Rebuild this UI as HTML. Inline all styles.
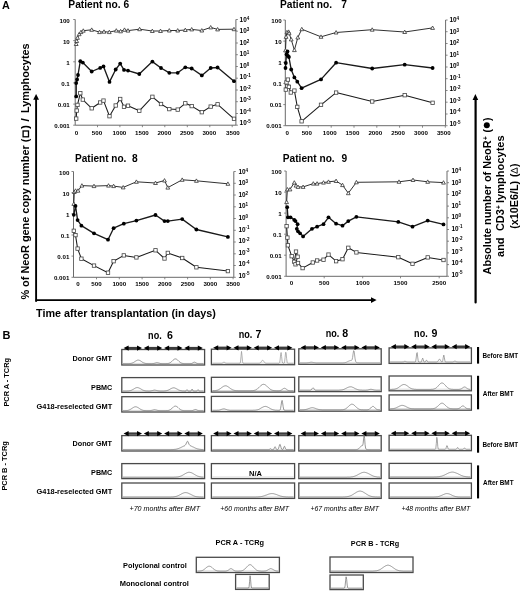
<!DOCTYPE html>
<html><head><meta charset="utf-8"><style>
html,body{margin:0;padding:0;background:#fff;}
svg{display:block;font-family:"Liberation Sans", sans-serif;filter:blur(0.3px);}
</style></head><body>
<svg width="520" height="591" viewBox="0 0 520 591">
<rect width="520" height="591" fill="#fff"/>
<text x="2" y="9.1" font-size="10.8" font-weight="bold" fill="#000">A</text>
<text x="68.3" y="8.3" font-size="10.2" font-weight="bold" textLength="60.9" lengthAdjust="spacingAndGlyphs" fill="#000">Patient no. 6</text>
<text x="280" y="7.8" font-size="10.2" font-weight="bold" textLength="52" lengthAdjust="spacingAndGlyphs" fill="#000">Patient no.</text>
<text x="341.3" y="7.8" font-size="10.2" font-weight="bold" fill="#000">7</text>
<text x="75" y="161.5" font-size="10.2" font-weight="bold" textLength="51.4" lengthAdjust="spacingAndGlyphs" fill="#000">Patient no.</text>
<text x="132.1" y="161.5" font-size="10.2" font-weight="bold" fill="#000">8</text>
<text x="282.8" y="161.5" font-size="10.2" font-weight="bold" textLength="51.9" lengthAdjust="spacingAndGlyphs" fill="#000">Patient no.</text>
<text x="341.6" y="161.5" font-size="10.2" font-weight="bold" fill="#000">9</text>
<path d="M75.2,19.5 V125.2 H235.9 V19.5" fill="none" stroke="#6a6a6a" stroke-width="1"/>
<line x1="73.2" y1="19.5" x2="75.2" y2="19.5" stroke="#6a6a6a" stroke-width="0.8"/>
<line x1="73.2" y1="40.6" x2="75.2" y2="40.6" stroke="#6a6a6a" stroke-width="0.8"/>
<line x1="73.2" y1="61.8" x2="75.2" y2="61.8" stroke="#6a6a6a" stroke-width="0.8"/>
<line x1="73.2" y1="82.9" x2="75.2" y2="82.9" stroke="#6a6a6a" stroke-width="0.8"/>
<line x1="73.2" y1="104.1" x2="75.2" y2="104.1" stroke="#6a6a6a" stroke-width="0.8"/>
<line x1="73.2" y1="125.2" x2="75.2" y2="125.2" stroke="#6a6a6a" stroke-width="0.8"/>
<line x1="235.9" y1="19.5" x2="237.9" y2="19.5" stroke="#6a6a6a" stroke-width="0.8"/>
<line x1="235.9" y1="31.2" x2="237.9" y2="31.2" stroke="#6a6a6a" stroke-width="0.8"/>
<line x1="235.9" y1="43.0" x2="237.9" y2="43.0" stroke="#6a6a6a" stroke-width="0.8"/>
<line x1="235.9" y1="54.7" x2="237.9" y2="54.7" stroke="#6a6a6a" stroke-width="0.8"/>
<line x1="235.9" y1="66.5" x2="237.9" y2="66.5" stroke="#6a6a6a" stroke-width="0.8"/>
<line x1="235.9" y1="78.2" x2="237.9" y2="78.2" stroke="#6a6a6a" stroke-width="0.8"/>
<line x1="235.9" y1="90.0" x2="237.9" y2="90.0" stroke="#6a6a6a" stroke-width="0.8"/>
<line x1="235.9" y1="101.7" x2="237.9" y2="101.7" stroke="#6a6a6a" stroke-width="0.8"/>
<line x1="235.9" y1="113.5" x2="237.9" y2="113.5" stroke="#6a6a6a" stroke-width="0.8"/>
<line x1="235.9" y1="125.2" x2="237.9" y2="125.2" stroke="#6a6a6a" stroke-width="0.8"/>
<line x1="97.5" y1="125.2" x2="97.5" y2="127.2" stroke="#6a6a6a" stroke-width="0.8"/>
<line x1="119.9" y1="125.2" x2="119.9" y2="127.2" stroke="#6a6a6a" stroke-width="0.8"/>
<line x1="142.4" y1="125.2" x2="142.4" y2="127.2" stroke="#6a6a6a" stroke-width="0.8"/>
<line x1="164.8" y1="125.2" x2="164.8" y2="127.2" stroke="#6a6a6a" stroke-width="0.8"/>
<line x1="187.3" y1="125.2" x2="187.3" y2="127.2" stroke="#6a6a6a" stroke-width="0.8"/>
<line x1="209.8" y1="125.2" x2="209.8" y2="127.2" stroke="#6a6a6a" stroke-width="0.8"/>
<line x1="232.2" y1="125.2" x2="232.2" y2="127.2" stroke="#6a6a6a" stroke-width="0.8"/>
<text x="69.8" y="22.8" font-size="6.2" font-weight="bold" text-anchor="end" fill="#000">100</text>
<text x="69.8" y="43.8" font-size="6.2" font-weight="bold" text-anchor="end" fill="#000">10</text>
<text x="69.8" y="64.7" font-size="6.2" font-weight="bold" text-anchor="end" fill="#000">1</text>
<text x="69.8" y="85.7" font-size="6.2" font-weight="bold" text-anchor="end" fill="#000">0.1</text>
<text x="69.8" y="106.6" font-size="6.2" font-weight="bold" text-anchor="end" fill="#000">0.01</text>
<text x="69.8" y="127.6" font-size="6.2" font-weight="bold" text-anchor="end" fill="#000">0.001</text>
<text x="239.6" y="21.9" font-size="6.4" font-weight="bold">10<tspan dy="-2.4" font-size="4.5">4</tspan></text>
<text x="239.6" y="33.4" font-size="6.4" font-weight="bold">10<tspan dy="-2.4" font-size="4.5">3</tspan></text>
<text x="239.6" y="44.9" font-size="6.4" font-weight="bold">10<tspan dy="-2.4" font-size="4.5">2</tspan></text>
<text x="239.6" y="56.4" font-size="6.4" font-weight="bold">10<tspan dy="-2.4" font-size="4.5">1</tspan></text>
<text x="239.6" y="67.9" font-size="6.4" font-weight="bold">10<tspan dy="-2.4" font-size="4.5">0</tspan></text>
<text x="239.6" y="79.4" font-size="6.4" font-weight="bold">10<tspan dy="-2.4" font-size="4.5">-1</tspan></text>
<text x="239.6" y="90.9" font-size="6.4" font-weight="bold">10<tspan dy="-2.4" font-size="4.5">-2</tspan></text>
<text x="239.6" y="102.4" font-size="6.4" font-weight="bold">10<tspan dy="-2.4" font-size="4.5">-3</tspan></text>
<text x="239.6" y="113.9" font-size="6.4" font-weight="bold">10<tspan dy="-2.4" font-size="4.5">-4</tspan></text>
<text x="239.6" y="125.4" font-size="6.4" font-weight="bold">10<tspan dy="-2.4" font-size="4.5">-5</tspan></text>
<text x="76.6" y="134.8" font-size="6.2" font-weight="bold" text-anchor="middle" fill="#000">0</text>
<text x="97.0" y="134.8" font-size="6.2" font-weight="bold" text-anchor="middle" fill="#000">500</text>
<text x="119.4" y="134.8" font-size="6.2" font-weight="bold" text-anchor="middle" fill="#000">1000</text>
<text x="141.9" y="134.8" font-size="6.2" font-weight="bold" text-anchor="middle" fill="#000">1500</text>
<text x="164.3" y="134.8" font-size="6.2" font-weight="bold" text-anchor="middle" fill="#000">2000</text>
<text x="186.8" y="134.8" font-size="6.2" font-weight="bold" text-anchor="middle" fill="#000">2500</text>
<text x="209.3" y="134.8" font-size="6.2" font-weight="bold" text-anchor="middle" fill="#000">3000</text>
<text x="232.9" y="134.8" font-size="6.2" font-weight="bold" text-anchor="middle" fill="#000">3500</text>
<path d="M285.3,20 V125.7 H445.6 V20" fill="none" stroke="#6a6a6a" stroke-width="1"/>
<line x1="283.3" y1="20.0" x2="285.3" y2="20.0" stroke="#6a6a6a" stroke-width="0.8"/>
<line x1="283.3" y1="41.1" x2="285.3" y2="41.1" stroke="#6a6a6a" stroke-width="0.8"/>
<line x1="283.3" y1="62.3" x2="285.3" y2="62.3" stroke="#6a6a6a" stroke-width="0.8"/>
<line x1="283.3" y1="83.4" x2="285.3" y2="83.4" stroke="#6a6a6a" stroke-width="0.8"/>
<line x1="283.3" y1="104.6" x2="285.3" y2="104.6" stroke="#6a6a6a" stroke-width="0.8"/>
<line x1="283.3" y1="125.7" x2="285.3" y2="125.7" stroke="#6a6a6a" stroke-width="0.8"/>
<line x1="445.6" y1="20.0" x2="447.6" y2="20.0" stroke="#6a6a6a" stroke-width="0.8"/>
<line x1="445.6" y1="31.7" x2="447.6" y2="31.7" stroke="#6a6a6a" stroke-width="0.8"/>
<line x1="445.6" y1="43.5" x2="447.6" y2="43.5" stroke="#6a6a6a" stroke-width="0.8"/>
<line x1="445.6" y1="55.2" x2="447.6" y2="55.2" stroke="#6a6a6a" stroke-width="0.8"/>
<line x1="445.6" y1="67.0" x2="447.6" y2="67.0" stroke="#6a6a6a" stroke-width="0.8"/>
<line x1="445.6" y1="78.7" x2="447.6" y2="78.7" stroke="#6a6a6a" stroke-width="0.8"/>
<line x1="445.6" y1="90.5" x2="447.6" y2="90.5" stroke="#6a6a6a" stroke-width="0.8"/>
<line x1="445.6" y1="102.2" x2="447.6" y2="102.2" stroke="#6a6a6a" stroke-width="0.8"/>
<line x1="445.6" y1="114.0" x2="447.6" y2="114.0" stroke="#6a6a6a" stroke-width="0.8"/>
<line x1="445.6" y1="125.7" x2="447.6" y2="125.7" stroke="#6a6a6a" stroke-width="0.8"/>
<line x1="308.3" y1="125.7" x2="308.3" y2="127.7" stroke="#6a6a6a" stroke-width="0.8"/>
<line x1="331.2" y1="125.7" x2="331.2" y2="127.7" stroke="#6a6a6a" stroke-width="0.8"/>
<line x1="354.0" y1="125.7" x2="354.0" y2="127.7" stroke="#6a6a6a" stroke-width="0.8"/>
<line x1="376.8" y1="125.7" x2="376.8" y2="127.7" stroke="#6a6a6a" stroke-width="0.8"/>
<line x1="399.6" y1="125.7" x2="399.6" y2="127.7" stroke="#6a6a6a" stroke-width="0.8"/>
<line x1="422.5" y1="125.7" x2="422.5" y2="127.7" stroke="#6a6a6a" stroke-width="0.8"/>
<line x1="445.3" y1="125.7" x2="445.3" y2="127.7" stroke="#6a6a6a" stroke-width="0.8"/>
<text x="281.7" y="23.3" font-size="6.2" font-weight="bold" text-anchor="end" fill="#000">100</text>
<text x="281.7" y="44.3" font-size="6.2" font-weight="bold" text-anchor="end" fill="#000">10</text>
<text x="281.7" y="65.2" font-size="6.2" font-weight="bold" text-anchor="end" fill="#000">1</text>
<text x="281.7" y="86.2" font-size="6.2" font-weight="bold" text-anchor="end" fill="#000">0.1</text>
<text x="281.7" y="107.1" font-size="6.2" font-weight="bold" text-anchor="end" fill="#000">0.01</text>
<text x="281.7" y="128.1" font-size="6.2" font-weight="bold" text-anchor="end" fill="#000">0.001</text>
<text x="449.5" y="22.4" font-size="6.4" font-weight="bold">10<tspan dy="-2.4" font-size="4.5">4</tspan></text>
<text x="449.5" y="33.9" font-size="6.4" font-weight="bold">10<tspan dy="-2.4" font-size="4.5">3</tspan></text>
<text x="449.5" y="45.4" font-size="6.4" font-weight="bold">10<tspan dy="-2.4" font-size="4.5">2</tspan></text>
<text x="449.5" y="56.9" font-size="6.4" font-weight="bold">10<tspan dy="-2.4" font-size="4.5">1</tspan></text>
<text x="449.5" y="68.4" font-size="6.4" font-weight="bold">10<tspan dy="-2.4" font-size="4.5">0</tspan></text>
<text x="449.5" y="79.9" font-size="6.4" font-weight="bold">10<tspan dy="-2.4" font-size="4.5">-1</tspan></text>
<text x="449.5" y="91.4" font-size="6.4" font-weight="bold">10<tspan dy="-2.4" font-size="4.5">-2</tspan></text>
<text x="449.5" y="102.9" font-size="6.4" font-weight="bold">10<tspan dy="-2.4" font-size="4.5">-3</tspan></text>
<text x="449.5" y="114.4" font-size="6.4" font-weight="bold">10<tspan dy="-2.4" font-size="4.5">-4</tspan></text>
<text x="449.5" y="125.9" font-size="6.4" font-weight="bold">10<tspan dy="-2.4" font-size="4.5">-5</tspan></text>
<text x="287.3" y="134.9" font-size="6.2" font-weight="bold" text-anchor="middle" fill="#000">0</text>
<text x="306.8" y="134.9" font-size="6.2" font-weight="bold" text-anchor="middle" fill="#000">500</text>
<text x="329.7" y="134.9" font-size="6.2" font-weight="bold" text-anchor="middle" fill="#000">1000</text>
<text x="352.5" y="134.9" font-size="6.2" font-weight="bold" text-anchor="middle" fill="#000">1500</text>
<text x="375.3" y="134.9" font-size="6.2" font-weight="bold" text-anchor="middle" fill="#000">2000</text>
<text x="398.1" y="134.9" font-size="6.2" font-weight="bold" text-anchor="middle" fill="#000">2500</text>
<text x="421.0" y="134.9" font-size="6.2" font-weight="bold" text-anchor="middle" fill="#000">3000</text>
<text x="443.8" y="134.9" font-size="6.2" font-weight="bold" text-anchor="middle" fill="#000">3500</text>
<path d="M73.5,171.5 V277.3 H233.8 V171.5" fill="none" stroke="#6a6a6a" stroke-width="1"/>
<line x1="71.5" y1="171.5" x2="73.5" y2="171.5" stroke="#6a6a6a" stroke-width="0.8"/>
<line x1="71.5" y1="192.7" x2="73.5" y2="192.7" stroke="#6a6a6a" stroke-width="0.8"/>
<line x1="71.5" y1="213.8" x2="73.5" y2="213.8" stroke="#6a6a6a" stroke-width="0.8"/>
<line x1="71.5" y1="235.0" x2="73.5" y2="235.0" stroke="#6a6a6a" stroke-width="0.8"/>
<line x1="71.5" y1="256.1" x2="73.5" y2="256.1" stroke="#6a6a6a" stroke-width="0.8"/>
<line x1="71.5" y1="277.3" x2="73.5" y2="277.3" stroke="#6a6a6a" stroke-width="0.8"/>
<line x1="233.8" y1="171.5" x2="235.8" y2="171.5" stroke="#6a6a6a" stroke-width="0.8"/>
<line x1="233.8" y1="183.3" x2="235.8" y2="183.3" stroke="#6a6a6a" stroke-width="0.8"/>
<line x1="233.8" y1="195.0" x2="235.8" y2="195.0" stroke="#6a6a6a" stroke-width="0.8"/>
<line x1="233.8" y1="206.8" x2="235.8" y2="206.8" stroke="#6a6a6a" stroke-width="0.8"/>
<line x1="233.8" y1="218.5" x2="235.8" y2="218.5" stroke="#6a6a6a" stroke-width="0.8"/>
<line x1="233.8" y1="230.3" x2="235.8" y2="230.3" stroke="#6a6a6a" stroke-width="0.8"/>
<line x1="233.8" y1="242.0" x2="235.8" y2="242.0" stroke="#6a6a6a" stroke-width="0.8"/>
<line x1="233.8" y1="253.8" x2="235.8" y2="253.8" stroke="#6a6a6a" stroke-width="0.8"/>
<line x1="233.8" y1="265.5" x2="235.8" y2="265.5" stroke="#6a6a6a" stroke-width="0.8"/>
<line x1="233.8" y1="277.3" x2="235.8" y2="277.3" stroke="#6a6a6a" stroke-width="0.8"/>
<line x1="96.5" y1="277.3" x2="96.5" y2="279.3" stroke="#6a6a6a" stroke-width="0.8"/>
<line x1="119.3" y1="277.3" x2="119.3" y2="279.3" stroke="#6a6a6a" stroke-width="0.8"/>
<line x1="142.1" y1="277.3" x2="142.1" y2="279.3" stroke="#6a6a6a" stroke-width="0.8"/>
<line x1="164.8" y1="277.3" x2="164.8" y2="279.3" stroke="#6a6a6a" stroke-width="0.8"/>
<line x1="187.6" y1="277.3" x2="187.6" y2="279.3" stroke="#6a6a6a" stroke-width="0.8"/>
<line x1="210.3" y1="277.3" x2="210.3" y2="279.3" stroke="#6a6a6a" stroke-width="0.8"/>
<line x1="233.1" y1="277.3" x2="233.1" y2="279.3" stroke="#6a6a6a" stroke-width="0.8"/>
<text x="69.4" y="174.8" font-size="6.2" font-weight="bold" text-anchor="end" fill="#000">100</text>
<text x="69.4" y="195.8" font-size="6.2" font-weight="bold" text-anchor="end" fill="#000">10</text>
<text x="69.4" y="216.8" font-size="6.2" font-weight="bold" text-anchor="end" fill="#000">1</text>
<text x="69.4" y="237.7" font-size="6.2" font-weight="bold" text-anchor="end" fill="#000">0.1</text>
<text x="69.4" y="258.7" font-size="6.2" font-weight="bold" text-anchor="end" fill="#000">0.01</text>
<text x="69.4" y="279.7" font-size="6.2" font-weight="bold" text-anchor="end" fill="#000">0.001</text>
<text x="238.5" y="173.9" font-size="6.4" font-weight="bold">10<tspan dy="-2.4" font-size="4.5">4</tspan></text>
<text x="238.5" y="185.4" font-size="6.4" font-weight="bold">10<tspan dy="-2.4" font-size="4.5">3</tspan></text>
<text x="238.5" y="196.9" font-size="6.4" font-weight="bold">10<tspan dy="-2.4" font-size="4.5">2</tspan></text>
<text x="238.5" y="208.4" font-size="6.4" font-weight="bold">10<tspan dy="-2.4" font-size="4.5">1</tspan></text>
<text x="238.5" y="219.9" font-size="6.4" font-weight="bold">10<tspan dy="-2.4" font-size="4.5">0</tspan></text>
<text x="238.5" y="231.5" font-size="6.4" font-weight="bold">10<tspan dy="-2.4" font-size="4.5">-1</tspan></text>
<text x="238.5" y="243.0" font-size="6.4" font-weight="bold">10<tspan dy="-2.4" font-size="4.5">-2</tspan></text>
<text x="238.5" y="254.5" font-size="6.4" font-weight="bold">10<tspan dy="-2.4" font-size="4.5">-3</tspan></text>
<text x="238.5" y="266.0" font-size="6.4" font-weight="bold">10<tspan dy="-2.4" font-size="4.5">-4</tspan></text>
<text x="238.5" y="277.5" font-size="6.4" font-weight="bold">10<tspan dy="-2.4" font-size="4.5">-5</tspan></text>
<text x="78.0" y="286.2" font-size="6.2" font-weight="bold" text-anchor="middle" fill="#000">0</text>
<text x="96.5" y="286.2" font-size="6.2" font-weight="bold" text-anchor="middle" fill="#000">500</text>
<text x="119.3" y="286.2" font-size="6.2" font-weight="bold" text-anchor="middle" fill="#000">1000</text>
<text x="142.1" y="286.2" font-size="6.2" font-weight="bold" text-anchor="middle" fill="#000">1500</text>
<text x="164.8" y="286.2" font-size="6.2" font-weight="bold" text-anchor="middle" fill="#000">2000</text>
<text x="187.6" y="286.2" font-size="6.2" font-weight="bold" text-anchor="middle" fill="#000">2500</text>
<text x="210.3" y="286.2" font-size="6.2" font-weight="bold" text-anchor="middle" fill="#000">3000</text>
<text x="233.1" y="286.2" font-size="6.2" font-weight="bold" text-anchor="middle" fill="#000">3500</text>
<path d="M286.1,171.0 V276.3 H447.0 V171.0" fill="none" stroke="#6a6a6a" stroke-width="1"/>
<line x1="284.1" y1="171.0" x2="286.1" y2="171.0" stroke="#6a6a6a" stroke-width="0.8"/>
<line x1="284.1" y1="192.1" x2="286.1" y2="192.1" stroke="#6a6a6a" stroke-width="0.8"/>
<line x1="284.1" y1="213.1" x2="286.1" y2="213.1" stroke="#6a6a6a" stroke-width="0.8"/>
<line x1="284.1" y1="234.2" x2="286.1" y2="234.2" stroke="#6a6a6a" stroke-width="0.8"/>
<line x1="284.1" y1="255.2" x2="286.1" y2="255.2" stroke="#6a6a6a" stroke-width="0.8"/>
<line x1="284.1" y1="276.3" x2="286.1" y2="276.3" stroke="#6a6a6a" stroke-width="0.8"/>
<line x1="447.0" y1="171.0" x2="449.0" y2="171.0" stroke="#6a6a6a" stroke-width="0.8"/>
<line x1="447.0" y1="182.7" x2="449.0" y2="182.7" stroke="#6a6a6a" stroke-width="0.8"/>
<line x1="447.0" y1="194.4" x2="449.0" y2="194.4" stroke="#6a6a6a" stroke-width="0.8"/>
<line x1="447.0" y1="206.1" x2="449.0" y2="206.1" stroke="#6a6a6a" stroke-width="0.8"/>
<line x1="447.0" y1="217.8" x2="449.0" y2="217.8" stroke="#6a6a6a" stroke-width="0.8"/>
<line x1="447.0" y1="229.5" x2="449.0" y2="229.5" stroke="#6a6a6a" stroke-width="0.8"/>
<line x1="447.0" y1="241.2" x2="449.0" y2="241.2" stroke="#6a6a6a" stroke-width="0.8"/>
<line x1="447.0" y1="252.9" x2="449.0" y2="252.9" stroke="#6a6a6a" stroke-width="0.8"/>
<line x1="447.0" y1="264.6" x2="449.0" y2="264.6" stroke="#6a6a6a" stroke-width="0.8"/>
<line x1="447.0" y1="276.3" x2="449.0" y2="276.3" stroke="#6a6a6a" stroke-width="0.8"/>
<line x1="324.2" y1="276.3" x2="324.2" y2="278.3" stroke="#6a6a6a" stroke-width="0.8"/>
<line x1="362.7" y1="276.3" x2="362.7" y2="278.3" stroke="#6a6a6a" stroke-width="0.8"/>
<line x1="400.5" y1="276.3" x2="400.5" y2="278.3" stroke="#6a6a6a" stroke-width="0.8"/>
<line x1="439.2" y1="276.3" x2="439.2" y2="278.3" stroke="#6a6a6a" stroke-width="0.8"/>
<text x="281.7" y="174.3" font-size="6.2" font-weight="bold" text-anchor="end" fill="#000">100</text>
<text x="281.7" y="195.2" font-size="6.2" font-weight="bold" text-anchor="end" fill="#000">10</text>
<text x="281.7" y="216.1" font-size="6.2" font-weight="bold" text-anchor="end" fill="#000">1</text>
<text x="281.7" y="236.9" font-size="6.2" font-weight="bold" text-anchor="end" fill="#000">0.1</text>
<text x="281.7" y="257.8" font-size="6.2" font-weight="bold" text-anchor="end" fill="#000">0.01</text>
<text x="281.7" y="278.7" font-size="6.2" font-weight="bold" text-anchor="end" fill="#000">0.001</text>
<text x="451.5" y="173.4" font-size="6.4" font-weight="bold">10<tspan dy="-2.4" font-size="4.5">4</tspan></text>
<text x="451.5" y="184.9" font-size="6.4" font-weight="bold">10<tspan dy="-2.4" font-size="4.5">3</tspan></text>
<text x="451.5" y="196.3" font-size="6.4" font-weight="bold">10<tspan dy="-2.4" font-size="4.5">2</tspan></text>
<text x="451.5" y="207.8" font-size="6.4" font-weight="bold">10<tspan dy="-2.4" font-size="4.5">1</tspan></text>
<text x="451.5" y="219.2" font-size="6.4" font-weight="bold">10<tspan dy="-2.4" font-size="4.5">0</tspan></text>
<text x="451.5" y="230.7" font-size="6.4" font-weight="bold">10<tspan dy="-2.4" font-size="4.5">-1</tspan></text>
<text x="451.5" y="242.1" font-size="6.4" font-weight="bold">10<tspan dy="-2.4" font-size="4.5">-2</tspan></text>
<text x="451.5" y="253.6" font-size="6.4" font-weight="bold">10<tspan dy="-2.4" font-size="4.5">-3</tspan></text>
<text x="451.5" y="265.0" font-size="6.4" font-weight="bold">10<tspan dy="-2.4" font-size="4.5">-4</tspan></text>
<text x="451.5" y="276.5" font-size="6.4" font-weight="bold">10<tspan dy="-2.4" font-size="4.5">-5</tspan></text>
<text x="291.5" y="285.0" font-size="6.2" font-weight="bold" text-anchor="middle" fill="#000">0</text>
<text x="324.2" y="285.0" font-size="6.2" font-weight="bold" text-anchor="middle" fill="#000">500</text>
<text x="362.7" y="285.0" font-size="6.2" font-weight="bold" text-anchor="middle" fill="#000">1000</text>
<text x="400.5" y="285.0" font-size="6.2" font-weight="bold" text-anchor="middle" fill="#000">1500</text>
<text x="439.2" y="285.0" font-size="6.2" font-weight="bold" text-anchor="middle" fill="#000">2500</text>
<polyline points="76.2,44.0 76.7,41.0 77.5,37.8 79.2,34.2 81.0,32.1 83.3,30.7 91.7,29.8 99.5,32.1 104.0,31.7 109.3,32.1 116.3,30.6 120.6,31.3 124.5,29.8 128.0,30.6 139.6,29.2 152.3,31.0 160.5,31.0 169.3,30.5 177.7,30.5 185.3,30.0 191.7,29.4 201.8,30.5 210.7,27.4 217.6,29.4 234.0,29.2" fill="none" stroke="#1a1a1a" stroke-width="0.9" stroke-linejoin="round"/>
<path d="M76.2,42.1 L78.1,45.5 L74.3,45.5 Z" fill="#fff" stroke="#333" stroke-width="0.8"/>
<path d="M76.7,39.1 L78.6,42.5 L74.8,42.5 Z" fill="#fff" stroke="#333" stroke-width="0.8"/>
<path d="M77.5,35.9 L79.4,39.3 L75.6,39.3 Z" fill="#fff" stroke="#333" stroke-width="0.8"/>
<path d="M79.2,32.3 L81.1,35.7 L77.3,35.7 Z" fill="#fff" stroke="#333" stroke-width="0.8"/>
<path d="M81.0,30.2 L82.9,33.6 L79.1,33.6 Z" fill="#fff" stroke="#333" stroke-width="0.8"/>
<path d="M83.3,28.8 L85.2,32.2 L81.4,32.2 Z" fill="#fff" stroke="#333" stroke-width="0.8"/>
<path d="M91.7,27.9 L93.6,31.3 L89.8,31.3 Z" fill="#fff" stroke="#333" stroke-width="0.8"/>
<path d="M99.5,30.2 L101.4,33.6 L97.6,33.6 Z" fill="#fff" stroke="#333" stroke-width="0.8"/>
<path d="M104.0,29.8 L105.9,33.2 L102.1,33.2 Z" fill="#fff" stroke="#333" stroke-width="0.8"/>
<path d="M109.3,30.2 L111.2,33.6 L107.4,33.6 Z" fill="#fff" stroke="#333" stroke-width="0.8"/>
<path d="M116.3,28.7 L118.2,32.1 L114.4,32.1 Z" fill="#fff" stroke="#333" stroke-width="0.8"/>
<path d="M120.6,29.4 L122.5,32.8 L118.7,32.8 Z" fill="#fff" stroke="#333" stroke-width="0.8"/>
<path d="M124.5,27.9 L126.4,31.3 L122.6,31.3 Z" fill="#fff" stroke="#333" stroke-width="0.8"/>
<path d="M128.0,28.7 L129.9,32.1 L126.1,32.1 Z" fill="#fff" stroke="#333" stroke-width="0.8"/>
<path d="M139.6,27.3 L141.5,30.7 L137.7,30.7 Z" fill="#fff" stroke="#333" stroke-width="0.8"/>
<path d="M152.3,29.1 L154.2,32.5 L150.4,32.5 Z" fill="#fff" stroke="#333" stroke-width="0.8"/>
<path d="M160.5,29.1 L162.4,32.5 L158.6,32.5 Z" fill="#fff" stroke="#333" stroke-width="0.8"/>
<path d="M169.3,28.6 L171.2,32.0 L167.4,32.0 Z" fill="#fff" stroke="#333" stroke-width="0.8"/>
<path d="M177.7,28.6 L179.6,32.0 L175.8,32.0 Z" fill="#fff" stroke="#333" stroke-width="0.8"/>
<path d="M185.3,28.1 L187.2,31.5 L183.4,31.5 Z" fill="#fff" stroke="#333" stroke-width="0.8"/>
<path d="M191.7,27.5 L193.6,30.9 L189.8,30.9 Z" fill="#fff" stroke="#333" stroke-width="0.8"/>
<path d="M201.8,28.6 L203.7,32.0 L199.9,32.0 Z" fill="#fff" stroke="#333" stroke-width="0.8"/>
<path d="M210.7,25.5 L212.6,28.9 L208.8,28.9 Z" fill="#fff" stroke="#333" stroke-width="0.8"/>
<path d="M217.6,27.5 L219.5,30.9 L215.7,30.9 Z" fill="#fff" stroke="#333" stroke-width="0.8"/>
<path d="M234.0,27.3 L235.9,30.7 L232.1,30.7 Z" fill="#fff" stroke="#333" stroke-width="0.8"/>
<polyline points="76.2,118.6 76.7,110.6 77.5,104.9 80.3,93.2 82.8,99.6 91.7,108.3 100.2,102.5 103.5,100.6 109.5,116.2 115.7,105.5 120.2,99.0 124.0,106.8 128.0,105.7 139.3,110.8 152.4,96.8 161.0,104.0 169.3,109.1 177.7,109.6 185.3,103.3 191.7,106.1 201.8,112.2 210.7,106.6 217.6,104.3 234.0,118.8" fill="none" stroke="#1a1a1a" stroke-width="1.05" stroke-linejoin="round"/>
<rect x="74.5" y="116.9" width="3.4" height="3.4" fill="#fff" stroke="#444" stroke-width="0.8"/>
<rect x="75.0" y="108.9" width="3.4" height="3.4" fill="#fff" stroke="#444" stroke-width="0.8"/>
<rect x="75.8" y="103.2" width="3.4" height="3.4" fill="#fff" stroke="#444" stroke-width="0.8"/>
<rect x="78.6" y="91.5" width="3.4" height="3.4" fill="#fff" stroke="#444" stroke-width="0.8"/>
<rect x="81.1" y="97.9" width="3.4" height="3.4" fill="#fff" stroke="#444" stroke-width="0.8"/>
<rect x="90.0" y="106.6" width="3.4" height="3.4" fill="#fff" stroke="#444" stroke-width="0.8"/>
<rect x="98.5" y="100.8" width="3.4" height="3.4" fill="#fff" stroke="#444" stroke-width="0.8"/>
<rect x="101.8" y="98.9" width="3.4" height="3.4" fill="#fff" stroke="#444" stroke-width="0.8"/>
<rect x="107.8" y="114.5" width="3.4" height="3.4" fill="#fff" stroke="#444" stroke-width="0.8"/>
<rect x="114.0" y="103.8" width="3.4" height="3.4" fill="#fff" stroke="#444" stroke-width="0.8"/>
<rect x="118.5" y="97.3" width="3.4" height="3.4" fill="#fff" stroke="#444" stroke-width="0.8"/>
<rect x="122.3" y="105.1" width="3.4" height="3.4" fill="#fff" stroke="#444" stroke-width="0.8"/>
<rect x="126.3" y="104.0" width="3.4" height="3.4" fill="#fff" stroke="#444" stroke-width="0.8"/>
<rect x="137.6" y="109.1" width="3.4" height="3.4" fill="#fff" stroke="#444" stroke-width="0.8"/>
<rect x="150.7" y="95.1" width="3.4" height="3.4" fill="#fff" stroke="#444" stroke-width="0.8"/>
<rect x="159.3" y="102.3" width="3.4" height="3.4" fill="#fff" stroke="#444" stroke-width="0.8"/>
<rect x="167.6" y="107.4" width="3.4" height="3.4" fill="#fff" stroke="#444" stroke-width="0.8"/>
<rect x="176.0" y="107.9" width="3.4" height="3.4" fill="#fff" stroke="#444" stroke-width="0.8"/>
<rect x="183.6" y="101.6" width="3.4" height="3.4" fill="#fff" stroke="#444" stroke-width="0.8"/>
<rect x="190.0" y="104.4" width="3.4" height="3.4" fill="#fff" stroke="#444" stroke-width="0.8"/>
<rect x="200.1" y="110.5" width="3.4" height="3.4" fill="#fff" stroke="#444" stroke-width="0.8"/>
<rect x="209.0" y="104.9" width="3.4" height="3.4" fill="#fff" stroke="#444" stroke-width="0.8"/>
<rect x="215.9" y="102.6" width="3.4" height="3.4" fill="#fff" stroke="#444" stroke-width="0.8"/>
<rect x="232.3" y="117.1" width="3.4" height="3.4" fill="#fff" stroke="#444" stroke-width="0.8"/>
<polyline points="76.2,96.4 76.2,83.1 77.1,79.5 78.0,75.0 80.3,61.2 82.8,62.6 91.7,71.5 100.2,67.9 103.5,66.4 109.5,81.9 115.7,69.5 120.2,63.6 124.0,69.9 128.0,70.6 139.3,74.0 152.4,61.6 161.0,68.0 169.3,72.8 177.7,72.8 185.3,67.3 191.7,68.5 201.8,75.4 210.7,68.0 217.6,67.5 234.0,81.2" fill="none" stroke="#1a1a1a" stroke-width="1.35" stroke-linejoin="round"/>
<circle cx="76.2" cy="96.4" r="1.9" fill="#000"/>
<circle cx="76.2" cy="83.1" r="1.9" fill="#000"/>
<circle cx="77.1" cy="79.5" r="1.9" fill="#000"/>
<circle cx="78.0" cy="75.0" r="1.9" fill="#000"/>
<circle cx="80.3" cy="61.2" r="1.9" fill="#000"/>
<circle cx="82.8" cy="62.6" r="1.9" fill="#000"/>
<circle cx="91.7" cy="71.5" r="1.9" fill="#000"/>
<circle cx="100.2" cy="67.9" r="1.9" fill="#000"/>
<circle cx="103.5" cy="66.4" r="1.9" fill="#000"/>
<circle cx="109.5" cy="81.9" r="1.9" fill="#000"/>
<circle cx="115.7" cy="69.5" r="1.9" fill="#000"/>
<circle cx="120.2" cy="63.6" r="1.9" fill="#000"/>
<circle cx="124.0" cy="69.9" r="1.9" fill="#000"/>
<circle cx="128.0" cy="70.6" r="1.9" fill="#000"/>
<circle cx="139.3" cy="74.0" r="1.9" fill="#000"/>
<circle cx="152.4" cy="61.6" r="1.9" fill="#000"/>
<circle cx="161.0" cy="68.0" r="1.9" fill="#000"/>
<circle cx="169.3" cy="72.8" r="1.9" fill="#000"/>
<circle cx="177.7" cy="72.8" r="1.9" fill="#000"/>
<circle cx="185.3" cy="67.3" r="1.9" fill="#000"/>
<circle cx="191.7" cy="68.5" r="1.9" fill="#000"/>
<circle cx="201.8" cy="75.4" r="1.9" fill="#000"/>
<circle cx="210.7" cy="68.0" r="1.9" fill="#000"/>
<circle cx="217.6" cy="67.5" r="1.9" fill="#000"/>
<circle cx="234.0" cy="81.2" r="1.9" fill="#000"/>
<polyline points="285.5,50.4 286.1,36.8 286.9,32.3 288.6,31.8 289.1,33.3 291.2,39.4 294.4,50.1 297.8,37.5 301.8,29.2 321.0,36.8 336.1,32.5 372.2,29.7 404.7,32.0 432.6,27.9" fill="none" stroke="#1a1a1a" stroke-width="0.9" stroke-linejoin="round"/>
<path d="M285.5,48.5 L287.4,51.9 L283.6,51.9 Z" fill="#fff" stroke="#333" stroke-width="0.8"/>
<path d="M286.1,34.9 L288.0,38.3 L284.2,38.3 Z" fill="#fff" stroke="#333" stroke-width="0.8"/>
<path d="M286.9,30.4 L288.8,33.8 L285.0,33.8 Z" fill="#fff" stroke="#333" stroke-width="0.8"/>
<path d="M288.6,29.9 L290.5,33.3 L286.7,33.3 Z" fill="#fff" stroke="#333" stroke-width="0.8"/>
<path d="M289.1,31.4 L291.0,34.8 L287.2,34.8 Z" fill="#fff" stroke="#333" stroke-width="0.8"/>
<path d="M291.2,37.5 L293.1,40.9 L289.3,40.9 Z" fill="#fff" stroke="#333" stroke-width="0.8"/>
<path d="M294.4,48.2 L296.3,51.6 L292.5,51.6 Z" fill="#fff" stroke="#333" stroke-width="0.8"/>
<path d="M297.8,35.6 L299.7,39.0 L295.9,39.0 Z" fill="#fff" stroke="#333" stroke-width="0.8"/>
<path d="M301.8,27.3 L303.7,30.7 L299.9,30.7 Z" fill="#fff" stroke="#333" stroke-width="0.8"/>
<path d="M321.0,34.9 L322.9,38.3 L319.1,38.3 Z" fill="#fff" stroke="#333" stroke-width="0.8"/>
<path d="M336.1,30.6 L338.0,34.0 L334.2,34.0 Z" fill="#fff" stroke="#333" stroke-width="0.8"/>
<path d="M372.2,27.8 L374.1,31.2 L370.3,31.2 Z" fill="#fff" stroke="#333" stroke-width="0.8"/>
<path d="M404.7,30.1 L406.6,33.5 L402.8,33.5 Z" fill="#fff" stroke="#333" stroke-width="0.8"/>
<path d="M432.6,26.0 L434.5,29.4 L430.7,29.4 Z" fill="#fff" stroke="#333" stroke-width="0.8"/>
<polyline points="285.8,89.6 286.5,82.4 287.9,79.6 287.2,86.0 288.9,86.8 290.8,92.5 294.4,90.6 297.3,106.9 301.6,121.3 321.0,104.8 336.1,92.6 372.2,101.5 404.7,95.2 432.6,102.8" fill="none" stroke="#1a1a1a" stroke-width="1.05" stroke-linejoin="round"/>
<rect x="284.1" y="87.9" width="3.4" height="3.4" fill="#fff" stroke="#444" stroke-width="0.8"/>
<rect x="284.8" y="80.7" width="3.4" height="3.4" fill="#fff" stroke="#444" stroke-width="0.8"/>
<rect x="286.2" y="77.9" width="3.4" height="3.4" fill="#fff" stroke="#444" stroke-width="0.8"/>
<rect x="285.5" y="84.3" width="3.4" height="3.4" fill="#fff" stroke="#444" stroke-width="0.8"/>
<rect x="287.2" y="85.1" width="3.4" height="3.4" fill="#fff" stroke="#444" stroke-width="0.8"/>
<rect x="289.1" y="90.8" width="3.4" height="3.4" fill="#fff" stroke="#444" stroke-width="0.8"/>
<rect x="292.7" y="88.9" width="3.4" height="3.4" fill="#fff" stroke="#444" stroke-width="0.8"/>
<rect x="295.6" y="105.2" width="3.4" height="3.4" fill="#fff" stroke="#444" stroke-width="0.8"/>
<rect x="299.9" y="119.6" width="3.4" height="3.4" fill="#fff" stroke="#444" stroke-width="0.8"/>
<rect x="319.3" y="103.1" width="3.4" height="3.4" fill="#fff" stroke="#444" stroke-width="0.8"/>
<rect x="334.4" y="90.9" width="3.4" height="3.4" fill="#fff" stroke="#444" stroke-width="0.8"/>
<rect x="370.5" y="99.8" width="3.4" height="3.4" fill="#fff" stroke="#444" stroke-width="0.8"/>
<rect x="403.0" y="93.5" width="3.4" height="3.4" fill="#fff" stroke="#444" stroke-width="0.8"/>
<rect x="430.9" y="101.1" width="3.4" height="3.4" fill="#fff" stroke="#444" stroke-width="0.8"/>
<polyline points="285.5,68.0 285.8,63.0 286.5,54.4 287.5,51.5 287.9,55.8 288.9,57.0 291.2,69.5 294.4,77.4 297.3,81.7 301.6,88.2 321.0,79.4 336.1,62.7 372.2,68.5 404.7,64.7 432.6,68.0" fill="none" stroke="#1a1a1a" stroke-width="1.35" stroke-linejoin="round"/>
<circle cx="285.5" cy="68.0" r="1.9" fill="#000"/>
<circle cx="285.8" cy="63.0" r="1.9" fill="#000"/>
<circle cx="286.5" cy="54.4" r="1.9" fill="#000"/>
<circle cx="287.5" cy="51.5" r="1.9" fill="#000"/>
<circle cx="287.9" cy="55.8" r="1.9" fill="#000"/>
<circle cx="288.9" cy="57.0" r="1.9" fill="#000"/>
<circle cx="291.2" cy="69.5" r="1.9" fill="#000"/>
<circle cx="294.4" cy="77.4" r="1.9" fill="#000"/>
<circle cx="297.3" cy="81.7" r="1.9" fill="#000"/>
<circle cx="301.6" cy="88.2" r="1.9" fill="#000"/>
<circle cx="321.0" cy="79.4" r="1.9" fill="#000"/>
<circle cx="336.1" cy="62.7" r="1.9" fill="#000"/>
<circle cx="372.2" cy="68.5" r="1.9" fill="#000"/>
<circle cx="404.7" cy="64.7" r="1.9" fill="#000"/>
<circle cx="432.6" cy="68.0" r="1.9" fill="#000"/>
<polyline points="73.8,203.9 74.3,192.0 75.5,190.7 78.0,190.7 81.9,185.6 94.0,186.1 108.5,185.6 113.6,186.1 123.2,187.4 136.4,181.8 155.5,183.0 164.5,180.5 167.8,187.6 182.2,179.8 196.4,180.8 227.9,183.8" fill="none" stroke="#1a1a1a" stroke-width="0.9" stroke-linejoin="round"/>
<path d="M73.8,202.0 L75.7,205.4 L71.9,205.4 Z" fill="#fff" stroke="#333" stroke-width="0.8"/>
<path d="M74.3,190.1 L76.2,193.5 L72.4,193.5 Z" fill="#fff" stroke="#333" stroke-width="0.8"/>
<path d="M75.5,188.8 L77.4,192.2 L73.6,192.2 Z" fill="#fff" stroke="#333" stroke-width="0.8"/>
<path d="M78.0,188.8 L79.9,192.2 L76.1,192.2 Z" fill="#fff" stroke="#333" stroke-width="0.8"/>
<path d="M81.9,183.7 L83.8,187.1 L80.0,187.1 Z" fill="#fff" stroke="#333" stroke-width="0.8"/>
<path d="M94.0,184.2 L95.9,187.6 L92.1,187.6 Z" fill="#fff" stroke="#333" stroke-width="0.8"/>
<path d="M108.5,183.7 L110.4,187.1 L106.6,187.1 Z" fill="#fff" stroke="#333" stroke-width="0.8"/>
<path d="M113.6,184.2 L115.5,187.6 L111.7,187.6 Z" fill="#fff" stroke="#333" stroke-width="0.8"/>
<path d="M123.2,185.5 L125.1,188.9 L121.3,188.9 Z" fill="#fff" stroke="#333" stroke-width="0.8"/>
<path d="M136.4,179.9 L138.3,183.3 L134.5,183.3 Z" fill="#fff" stroke="#333" stroke-width="0.8"/>
<path d="M155.5,181.1 L157.4,184.5 L153.6,184.5 Z" fill="#fff" stroke="#333" stroke-width="0.8"/>
<path d="M164.5,178.6 L166.4,182.0 L162.6,182.0 Z" fill="#fff" stroke="#333" stroke-width="0.8"/>
<path d="M167.8,185.7 L169.7,189.1 L165.9,189.1 Z" fill="#fff" stroke="#333" stroke-width="0.8"/>
<path d="M182.2,177.9 L184.1,181.3 L180.3,181.3 Z" fill="#fff" stroke="#333" stroke-width="0.8"/>
<path d="M196.4,178.9 L198.3,182.3 L194.5,182.3 Z" fill="#fff" stroke="#333" stroke-width="0.8"/>
<path d="M227.9,181.9 L229.8,185.3 L226.0,185.3 Z" fill="#fff" stroke="#333" stroke-width="0.8"/>
<polyline points="73.8,230.8 75.5,235.1 77.6,248.6 81.4,258.7 94.0,265.6 108.0,272.7 113.6,261.2 123.8,255.4 136.4,257.4 155.5,250.3 164.5,258.5 167.8,252.9 182.2,258.0 196.4,267.3 227.9,271.1" fill="none" stroke="#1a1a1a" stroke-width="1.05" stroke-linejoin="round"/>
<rect x="72.1" y="229.1" width="3.4" height="3.4" fill="#fff" stroke="#444" stroke-width="0.8"/>
<rect x="73.8" y="233.4" width="3.4" height="3.4" fill="#fff" stroke="#444" stroke-width="0.8"/>
<rect x="75.9" y="246.9" width="3.4" height="3.4" fill="#fff" stroke="#444" stroke-width="0.8"/>
<rect x="79.7" y="257.0" width="3.4" height="3.4" fill="#fff" stroke="#444" stroke-width="0.8"/>
<rect x="92.3" y="263.9" width="3.4" height="3.4" fill="#fff" stroke="#444" stroke-width="0.8"/>
<rect x="106.3" y="271.0" width="3.4" height="3.4" fill="#fff" stroke="#444" stroke-width="0.8"/>
<rect x="111.9" y="259.5" width="3.4" height="3.4" fill="#fff" stroke="#444" stroke-width="0.8"/>
<rect x="122.1" y="253.7" width="3.4" height="3.4" fill="#fff" stroke="#444" stroke-width="0.8"/>
<rect x="134.7" y="255.7" width="3.4" height="3.4" fill="#fff" stroke="#444" stroke-width="0.8"/>
<rect x="153.8" y="248.6" width="3.4" height="3.4" fill="#fff" stroke="#444" stroke-width="0.8"/>
<rect x="162.8" y="256.8" width="3.4" height="3.4" fill="#fff" stroke="#444" stroke-width="0.8"/>
<rect x="166.1" y="251.2" width="3.4" height="3.4" fill="#fff" stroke="#444" stroke-width="0.8"/>
<rect x="180.5" y="256.3" width="3.4" height="3.4" fill="#fff" stroke="#444" stroke-width="0.8"/>
<rect x="194.7" y="265.6" width="3.4" height="3.4" fill="#fff" stroke="#444" stroke-width="0.8"/>
<rect x="226.2" y="269.4" width="3.4" height="3.4" fill="#fff" stroke="#444" stroke-width="0.8"/>
<polyline points="73.8,214.8 75.5,205.9 77.6,220.1 81.4,225.7 94.0,233.3 108.0,239.7 113.6,228.2 123.8,223.7 136.4,220.6 155.5,215.0 164.5,221.1 167.8,221.1 182.2,219.1 196.4,229.5 227.9,236.9" fill="none" stroke="#1a1a1a" stroke-width="1.35" stroke-linejoin="round"/>
<circle cx="73.8" cy="214.8" r="1.9" fill="#000"/>
<circle cx="75.5" cy="205.9" r="1.9" fill="#000"/>
<circle cx="77.6" cy="220.1" r="1.9" fill="#000"/>
<circle cx="81.4" cy="225.7" r="1.9" fill="#000"/>
<circle cx="94.0" cy="233.3" r="1.9" fill="#000"/>
<circle cx="108.0" cy="239.7" r="1.9" fill="#000"/>
<circle cx="113.6" cy="228.2" r="1.9" fill="#000"/>
<circle cx="123.8" cy="223.7" r="1.9" fill="#000"/>
<circle cx="136.4" cy="220.6" r="1.9" fill="#000"/>
<circle cx="155.5" cy="215.0" r="1.9" fill="#000"/>
<circle cx="164.5" cy="221.1" r="1.9" fill="#000"/>
<circle cx="167.8" cy="221.1" r="1.9" fill="#000"/>
<circle cx="182.2" cy="219.1" r="1.9" fill="#000"/>
<circle cx="196.4" cy="229.5" r="1.9" fill="#000"/>
<circle cx="227.9" cy="236.9" r="1.9" fill="#000"/>
<polyline points="286.6,202.1 287.4,189.4 290.0,189.4 294.3,182.6 296.0,185.6 298.0,186.9 303.1,186.9 313.3,183.6 317.1,183.6 323.5,182.6 328.5,181.8 336.1,181.0 342.5,185.1 348.3,193.2 356.4,182.3 399.0,181.8 413.0,180.0 427.7,181.8 443.5,182.6" fill="none" stroke="#1a1a1a" stroke-width="0.9" stroke-linejoin="round"/>
<path d="M286.6,200.2 L288.5,203.6 L284.7,203.6 Z" fill="#fff" stroke="#333" stroke-width="0.8"/>
<path d="M287.4,187.5 L289.3,190.9 L285.5,190.9 Z" fill="#fff" stroke="#333" stroke-width="0.8"/>
<path d="M290.0,187.5 L291.9,190.9 L288.1,190.9 Z" fill="#fff" stroke="#333" stroke-width="0.8"/>
<path d="M294.3,180.7 L296.2,184.1 L292.4,184.1 Z" fill="#fff" stroke="#333" stroke-width="0.8"/>
<path d="M296.0,183.7 L297.9,187.1 L294.1,187.1 Z" fill="#fff" stroke="#333" stroke-width="0.8"/>
<path d="M298.0,185.0 L299.9,188.4 L296.1,188.4 Z" fill="#fff" stroke="#333" stroke-width="0.8"/>
<path d="M303.1,185.0 L305.0,188.4 L301.2,188.4 Z" fill="#fff" stroke="#333" stroke-width="0.8"/>
<path d="M313.3,181.7 L315.2,185.1 L311.4,185.1 Z" fill="#fff" stroke="#333" stroke-width="0.8"/>
<path d="M317.1,181.7 L319.0,185.1 L315.2,185.1 Z" fill="#fff" stroke="#333" stroke-width="0.8"/>
<path d="M323.5,180.7 L325.4,184.1 L321.6,184.1 Z" fill="#fff" stroke="#333" stroke-width="0.8"/>
<path d="M328.5,179.9 L330.4,183.3 L326.6,183.3 Z" fill="#fff" stroke="#333" stroke-width="0.8"/>
<path d="M336.1,179.1 L338.0,182.5 L334.2,182.5 Z" fill="#fff" stroke="#333" stroke-width="0.8"/>
<path d="M342.5,183.2 L344.4,186.6 L340.6,186.6 Z" fill="#fff" stroke="#333" stroke-width="0.8"/>
<path d="M348.3,191.3 L350.2,194.7 L346.4,194.7 Z" fill="#fff" stroke="#333" stroke-width="0.8"/>
<path d="M356.4,180.4 L358.3,183.8 L354.5,183.8 Z" fill="#fff" stroke="#333" stroke-width="0.8"/>
<path d="M399.0,179.9 L400.9,183.3 L397.1,183.3 Z" fill="#fff" stroke="#333" stroke-width="0.8"/>
<path d="M413.0,178.1 L414.9,181.5 L411.1,181.5 Z" fill="#fff" stroke="#333" stroke-width="0.8"/>
<path d="M427.7,179.9 L429.6,183.3 L425.8,183.3 Z" fill="#fff" stroke="#333" stroke-width="0.8"/>
<path d="M443.5,180.7 L445.4,184.1 L441.6,184.1 Z" fill="#fff" stroke="#333" stroke-width="0.8"/>
<polyline points="286.6,226.2 287.4,237.6 287.9,245.3 291.7,256.2 294.3,261.8 296.0,251.6 297.6,256.7 295.5,264.3 298.0,263.0 302.6,268.1 312.8,262.5 317.1,260.5 323.5,259.7 328.5,254.6 336.1,261.2 342.5,259.2 348.3,247.8 356.4,252.4 398.3,257.2 412.5,263.8 427.7,257.4 443.5,260.0" fill="none" stroke="#1a1a1a" stroke-width="1.05" stroke-linejoin="round"/>
<rect x="284.9" y="224.5" width="3.4" height="3.4" fill="#fff" stroke="#444" stroke-width="0.8"/>
<rect x="285.7" y="235.9" width="3.4" height="3.4" fill="#fff" stroke="#444" stroke-width="0.8"/>
<rect x="286.2" y="243.6" width="3.4" height="3.4" fill="#fff" stroke="#444" stroke-width="0.8"/>
<rect x="290.0" y="254.5" width="3.4" height="3.4" fill="#fff" stroke="#444" stroke-width="0.8"/>
<rect x="292.6" y="260.1" width="3.4" height="3.4" fill="#fff" stroke="#444" stroke-width="0.8"/>
<rect x="294.3" y="249.9" width="3.4" height="3.4" fill="#fff" stroke="#444" stroke-width="0.8"/>
<rect x="295.9" y="255.0" width="3.4" height="3.4" fill="#fff" stroke="#444" stroke-width="0.8"/>
<rect x="293.8" y="262.6" width="3.4" height="3.4" fill="#fff" stroke="#444" stroke-width="0.8"/>
<rect x="296.3" y="261.3" width="3.4" height="3.4" fill="#fff" stroke="#444" stroke-width="0.8"/>
<rect x="300.9" y="266.4" width="3.4" height="3.4" fill="#fff" stroke="#444" stroke-width="0.8"/>
<rect x="311.1" y="260.8" width="3.4" height="3.4" fill="#fff" stroke="#444" stroke-width="0.8"/>
<rect x="315.4" y="258.8" width="3.4" height="3.4" fill="#fff" stroke="#444" stroke-width="0.8"/>
<rect x="321.8" y="258.0" width="3.4" height="3.4" fill="#fff" stroke="#444" stroke-width="0.8"/>
<rect x="326.8" y="252.9" width="3.4" height="3.4" fill="#fff" stroke="#444" stroke-width="0.8"/>
<rect x="334.4" y="259.5" width="3.4" height="3.4" fill="#fff" stroke="#444" stroke-width="0.8"/>
<rect x="340.8" y="257.5" width="3.4" height="3.4" fill="#fff" stroke="#444" stroke-width="0.8"/>
<rect x="346.6" y="246.1" width="3.4" height="3.4" fill="#fff" stroke="#444" stroke-width="0.8"/>
<rect x="354.7" y="250.7" width="3.4" height="3.4" fill="#fff" stroke="#444" stroke-width="0.8"/>
<rect x="396.6" y="255.5" width="3.4" height="3.4" fill="#fff" stroke="#444" stroke-width="0.8"/>
<rect x="410.8" y="262.1" width="3.4" height="3.4" fill="#fff" stroke="#444" stroke-width="0.8"/>
<rect x="426.0" y="255.7" width="3.4" height="3.4" fill="#fff" stroke="#444" stroke-width="0.8"/>
<rect x="441.8" y="258.3" width="3.4" height="3.4" fill="#fff" stroke="#444" stroke-width="0.8"/>
<polyline points="287.2,207.2 287.9,217.3 290.5,217.3 294.3,219.9 295.5,221.1 297.6,224.2 296.8,228.8 298.0,231.3 300.1,233.3 303.1,236.4 312.0,228.8 317.1,226.7 323.5,224.2 328.5,217.3 336.1,223.7 342.5,225.7 348.3,221.1 356.4,216.8 398.3,221.9 412.5,226.7 427.7,220.6 443.5,224.4" fill="none" stroke="#1a1a1a" stroke-width="1.35" stroke-linejoin="round"/>
<circle cx="287.2" cy="207.2" r="1.9" fill="#000"/>
<circle cx="287.9" cy="217.3" r="1.9" fill="#000"/>
<circle cx="290.5" cy="217.3" r="1.9" fill="#000"/>
<circle cx="294.3" cy="219.9" r="1.9" fill="#000"/>
<circle cx="295.5" cy="221.1" r="1.9" fill="#000"/>
<circle cx="297.6" cy="224.2" r="1.9" fill="#000"/>
<circle cx="296.8" cy="228.8" r="1.9" fill="#000"/>
<circle cx="298.0" cy="231.3" r="1.9" fill="#000"/>
<circle cx="300.1" cy="233.3" r="1.9" fill="#000"/>
<circle cx="303.1" cy="236.4" r="1.9" fill="#000"/>
<circle cx="312.0" cy="228.8" r="1.9" fill="#000"/>
<circle cx="317.1" cy="226.7" r="1.9" fill="#000"/>
<circle cx="323.5" cy="224.2" r="1.9" fill="#000"/>
<circle cx="328.5" cy="217.3" r="1.9" fill="#000"/>
<circle cx="336.1" cy="223.7" r="1.9" fill="#000"/>
<circle cx="342.5" cy="225.7" r="1.9" fill="#000"/>
<circle cx="348.3" cy="221.1" r="1.9" fill="#000"/>
<circle cx="356.4" cy="216.8" r="1.9" fill="#000"/>
<circle cx="398.3" cy="221.9" r="1.9" fill="#000"/>
<circle cx="412.5" cy="226.7" r="1.9" fill="#000"/>
<circle cx="427.7" cy="220.6" r="1.9" fill="#000"/>
<circle cx="443.5" cy="224.4" r="1.9" fill="#000"/>
<path d="M36.1,301.8 V98" stroke="#000" stroke-width="1.9" fill="none"/>
<path d="M36.1,94.1 L33.2,99.8 L39,99.8 Z" fill="#000"/>
<path d="M35.6,300.1 H372" stroke="#000" stroke-width="1.9" fill="none"/>
<path d="M376.6,300.1 L371,297.2 L371,303.1 Z" fill="#000"/>
<path d="M475.6,302.5 V98" stroke="#000" stroke-width="2.2" stroke-linecap="round" fill="none"/>
<path d="M475.4,94.1 L472.6,99.9 L478.2,99.9 Z" fill="#000"/>
<text x="36.0" y="317.2" font-size="10.8" font-weight="bold" textLength="179.8" lengthAdjust="spacingAndGlyphs" fill="#000">Time after transplantation (in days)</text>
<text transform="translate(29.2,299.6) rotate(-90)" font-size="10.4" font-weight="bold" textLength="161.0" lengthAdjust="spacingAndGlyphs">% of NeoR gene copy number (</text>
<rect x="23.1" y="131.0" width="5.4" height="5.8" fill="none" stroke="#000" stroke-width="1.3"/>
<text transform="translate(29.2,128.9) rotate(-90)" font-size="10.4" font-weight="bold" textLength="10.6" lengthAdjust="spacingAndGlyphs">) /</text>
<text transform="translate(29.2,113.0) rotate(-90)" font-size="10.4" font-weight="bold" textLength="69.6" lengthAdjust="spacingAndGlyphs">Lymphocytes</text>
<text transform="translate(491.0,274.4) rotate(-90)" font-size="10.4" font-weight="bold" textLength="134.0" lengthAdjust="spacingAndGlyphs">Absolute number of NeoR</text>
<text transform="translate(487.6,139.9) rotate(-90)" font-size="6.5" font-weight="bold">+</text>
<text transform="translate(491.0,132.6) rotate(-90)" font-size="10.4" font-weight="bold">(</text>
<circle cx="486.8" cy="125.2" r="3.0" fill="#000"/>
<text transform="translate(491.0,121.0) rotate(-90)" font-size="10.4" font-weight="bold">)</text>
<text transform="translate(504.0,256.9) rotate(-90)" font-size="10.4" font-weight="bold" textLength="19.4" lengthAdjust="spacingAndGlyphs">and</text>
<text transform="translate(504.0,231.1) rotate(-90)" font-size="10.4" font-weight="bold" textLength="21.8" lengthAdjust="spacingAndGlyphs">CD3</text>
<text transform="translate(500.6,209.0) rotate(-90)" font-size="6.5" font-weight="bold">+</text>
<text transform="translate(504.0,203.1) rotate(-90)" font-size="10.4" font-weight="bold" textLength="67.8" lengthAdjust="spacingAndGlyphs">lymphocytes</text>
<text transform="translate(517.6,228.8) rotate(-90)" font-size="10.4" font-weight="bold" textLength="48.0" lengthAdjust="spacingAndGlyphs">(x10E6/L)</text>
<text transform="translate(517.6,177.0) rotate(-90)" font-size="10.4" font-weight="bold">(</text>
<path d="M510.9,170.6 L517.2,167.9 L517.2,173.3 Z" fill="none" stroke="#000" stroke-width="0.9"/>
<text transform="translate(517.6,167.0) rotate(-90)" font-size="10.4" font-weight="bold">)</text>
<rect x="121.8" y="349.5" width="82.8" height="15.5" fill="none" stroke="#4a4a4a" stroke-width="1.3"/>
<line x1="122.8" y1="363.4" x2="203.6" y2="363.4" stroke="#cfcfcf" stroke-width="0.8"/>
<polyline points="122.8,363.7 123.3,363.7 123.8,363.7 124.3,363.7 124.8,363.7 125.3,363.7 125.8,363.7 126.3,363.7 126.8,363.7 127.3,363.7 127.8,363.7 128.3,363.7 128.8,363.7 129.3,363.6 129.8,363.6 130.3,363.5 130.8,363.4 131.3,363.3 131.8,363.2 132.3,363.0 132.8,362.8 133.3,362.6 133.8,362.3 134.3,362.0 134.8,361.6 135.3,361.3 135.8,361.0 136.4,360.7 136.9,360.4 137.4,360.2 137.9,360.1 138.4,360.1 138.9,360.2 139.4,360.3 139.9,360.6 140.4,360.8 140.9,361.2 141.4,361.5 141.9,361.8 142.4,362.2 142.9,362.5 143.4,362.7 143.9,363.0 144.4,363.1 144.9,363.3 145.4,363.4 145.9,363.5 146.4,363.6 146.9,363.6 147.4,363.6 147.9,363.7 148.4,363.7 148.9,363.7 149.4,363.7 149.9,363.7 150.4,363.7 150.9,363.7 151.4,363.7 151.9,363.7 152.4,363.6 152.9,363.6 153.4,363.5 153.9,363.4 154.4,363.3 154.9,363.1 155.4,363.0 155.9,362.8 156.4,362.7 156.9,362.7 157.4,362.7 157.9,362.8 158.4,362.9 158.9,363.1 159.4,363.2 159.9,363.4 160.4,363.5 160.9,363.6 161.4,363.6 161.9,363.7 162.4,363.7 162.9,363.7 163.5,363.7 164.0,363.7 164.5,363.7 165.0,363.7 165.5,363.7 166.0,363.7 166.5,363.6 167.0,363.6 167.5,363.6 168.0,363.5 168.5,363.4 169.0,363.2 169.5,363.0 170.0,362.8 170.5,362.5 171.0,362.1 171.5,361.7 172.0,361.2 172.5,360.7 173.0,360.2 173.5,359.8 174.0,359.4 174.5,359.1 175.0,358.9 175.5,358.9 176.0,359.0 176.5,359.2 177.0,359.5 177.5,359.9 178.0,360.4 178.5,360.9 179.0,361.4 179.5,361.8 180.0,362.2 180.5,362.6 181.0,362.9 181.5,363.1 182.0,363.3 182.5,363.4 183.0,363.5 183.5,363.6 184.0,363.6 184.5,363.7 185.0,363.7 185.5,363.7 186.0,363.7 186.5,363.7 187.0,363.7 187.5,363.7 188.0,363.7 188.5,363.7 189.0,363.7 189.5,363.7 190.0,363.7 190.6,363.6 191.1,363.6 191.6,363.5 192.1,363.3 192.6,363.0 193.1,362.7 193.6,362.4 194.1,362.2 194.6,362.2 195.1,362.3 195.6,362.6 196.1,362.9 196.6,363.2 197.1,363.4 197.6,363.5 198.1,363.6 198.6,363.7 199.1,363.7 199.6,363.7 200.1,363.7 200.6,363.7 201.1,363.7 201.6,363.7 202.1,363.7 202.6,363.7 203.1,363.7 203.6,363.7" fill="none" stroke="#767676" stroke-width="0.75"/>
<rect x="211.4" y="349.2" width="83.2" height="15.5" fill="none" stroke="#4a4a4a" stroke-width="1.3"/>
<line x1="212.4" y1="363.1" x2="293.6" y2="363.1" stroke="#cfcfcf" stroke-width="0.8"/>
<polyline points="212.4,363.4 212.9,363.4 213.4,363.4 213.9,363.4 214.4,363.4 214.9,363.4 215.4,363.4 215.9,363.4 216.4,363.4 216.9,363.4 217.4,363.4 217.9,363.4 218.4,363.4 218.9,363.4 219.4,363.4 219.9,363.4 220.4,363.4 220.9,363.4 221.4,363.4 221.9,363.3 222.4,363.1 222.9,362.7 223.4,362.4 223.9,362.2 224.4,362.3 224.9,362.6 225.4,363.0 225.9,363.2 226.4,363.3 226.9,363.4 227.4,363.4 227.9,363.4 228.4,363.4 228.9,363.4 229.4,363.4 229.9,363.4 230.4,363.4 230.9,363.4 231.4,363.4 231.9,363.4 232.4,363.4 233.0,363.4 233.5,363.4 234.0,363.4 234.5,363.4 235.0,363.4 235.5,363.4 236.0,363.4 236.5,363.4 237.0,363.4 237.5,363.4 238.0,363.4 238.5,363.4 239.0,363.4 239.5,363.4 240.0,363.3 240.5,362.0 241.0,356.6 241.5,351.4 242.0,355.7 242.5,361.6 243.0,363.2 243.5,363.4 244.0,363.4 244.5,363.4 245.0,363.4 245.5,363.4 246.0,363.4 246.5,363.4 247.0,363.4 247.5,363.4 248.0,363.4 248.5,363.4 249.0,363.4 249.5,363.4 250.0,363.4 250.5,363.4 251.0,363.4 251.5,363.4 252.0,363.4 252.5,363.4 253.0,363.4 253.5,363.4 254.0,363.4 254.5,363.4 255.0,363.4 255.5,363.4 256.0,363.4 256.5,363.4 257.0,363.4 257.5,363.4 258.0,363.4 258.5,363.4 259.0,363.4 259.5,363.3 260.0,363.1 260.5,362.8 261.0,362.2 261.5,361.4 262.0,360.7 262.5,360.2 263.0,360.3 263.5,360.9 264.0,361.7 264.5,362.4 265.0,362.9 265.5,363.2 266.0,363.3 266.5,363.4 267.0,363.4 267.5,363.4 268.0,363.4 268.5,363.4 269.0,363.4 269.5,363.4 270.0,363.4 270.5,363.4 271.0,363.4 271.5,363.4 272.0,363.4 272.5,363.4 273.0,363.4 273.6,363.4 274.1,363.4 274.6,363.4 275.1,363.4 275.6,363.4 276.1,363.4 276.6,363.4 277.1,363.4 277.6,363.4 278.1,363.4 278.6,363.4 279.1,363.3 279.6,362.8 280.1,360.1 280.6,354.9 281.1,352.5 281.6,356.4 282.1,361.2 282.6,363.0 283.1,363.4 283.6,363.4 284.1,363.2 284.6,361.9 285.1,357.6 285.6,352.2 286.1,352.7 286.6,358.3 287.1,362.2 287.6,363.3 288.1,363.4 288.6,363.4 289.1,363.4 289.6,363.4 290.1,363.4 290.6,363.4 291.1,363.4 291.6,363.4 292.1,363.4 292.6,363.4 293.1,363.4 293.6,363.4" fill="none" stroke="#999" stroke-width="0.75"/>
<rect x="298.8" y="348.8" width="82.4" height="15.5" fill="none" stroke="#4a4a4a" stroke-width="1.3"/>
<line x1="299.8" y1="362.7" x2="380.2" y2="362.7" stroke="#cfcfcf" stroke-width="0.8"/>
<polyline points="299.8,363.0 300.3,363.0 300.8,363.0 301.3,363.0 301.8,363.0 302.3,363.0 302.8,363.0 303.3,363.0 303.8,363.0 304.3,363.0 304.8,363.0 305.3,363.0 305.8,363.0 306.3,363.0 306.8,362.9 307.3,362.9 307.8,362.8 308.3,362.8 308.8,362.6 309.3,362.5 309.9,362.4 310.4,362.3 310.9,362.2 311.4,362.2 311.9,362.2 312.4,362.3 312.9,362.4 313.4,362.5 313.9,362.6 314.4,362.7 314.9,362.8 315.4,362.9 315.9,362.9 316.4,363.0 316.9,363.0 317.4,363.0 317.9,363.0 318.4,363.0 318.9,363.0 319.4,363.0 319.9,363.0 320.4,363.0 320.9,363.0 321.4,363.0 321.9,363.0 322.4,363.0 322.9,363.0 323.4,363.0 323.9,363.0 324.4,363.0 324.9,363.0 325.4,363.0 325.9,363.0 326.4,363.0 326.9,363.0 327.4,363.0 327.9,363.0 328.4,363.0 328.9,363.0 329.4,363.0 329.9,363.0 330.5,363.0 331.0,363.0 331.5,363.0 332.0,363.0 332.5,363.0 333.0,363.0 333.5,363.0 334.0,363.0 334.5,363.0 335.0,363.0 335.5,363.0 336.0,363.0 336.5,363.0 337.0,363.0 337.5,363.0 338.0,363.0 338.5,363.0 339.0,363.0 339.5,363.0 340.0,363.0 340.5,363.0 341.0,363.0 341.5,363.0 342.0,363.0 342.5,363.0 343.0,362.9 343.5,362.9 344.0,362.8 344.5,362.8 345.0,362.7 345.5,362.5 346.0,362.4 346.5,362.2 347.0,362.0 347.5,361.7 348.0,361.5 348.5,361.2 349.0,361.0 349.5,360.8 350.1,360.6 350.6,360.5 351.1,360.5 351.6,360.3 352.1,359.6 352.6,357.5 353.1,353.8 353.6,350.7 354.1,351.1 354.6,354.9 355.1,358.9 355.6,361.3 356.1,362.2 356.6,362.5 357.1,362.7 357.6,362.8 358.1,362.8 358.6,362.9 359.1,362.9 359.6,363.0 360.1,363.0 360.6,363.0 361.1,363.0 361.6,363.0 362.1,363.0 362.6,363.0 363.1,363.0 363.6,363.0 364.1,363.0 364.6,363.0 365.1,363.0 365.6,363.0 366.1,363.0 366.6,363.0 367.1,363.0 367.6,363.0 368.1,363.0 368.6,363.0 369.1,363.0 369.6,363.0 370.1,363.0 370.7,363.0 371.2,363.0 371.7,363.0 372.2,363.0 372.7,363.0 373.2,363.0 373.7,363.0 374.2,363.0 374.7,363.0 375.2,363.0 375.7,363.0 376.2,363.0 376.7,363.0 377.2,363.0 377.7,363.0 378.2,363.0 378.7,363.0 379.2,363.0 379.7,363.0 380.2,363.0" fill="none" stroke="#888" stroke-width="0.75"/>
<rect x="389.1" y="347.9" width="82.3" height="15.5" fill="none" stroke="#4a4a4a" stroke-width="1.3"/>
<line x1="390.1" y1="361.8" x2="470.4" y2="361.8" stroke="#cfcfcf" stroke-width="0.8"/>
<polyline points="390.1,362.1 390.6,362.1 391.1,362.1 391.6,362.1 392.1,362.1 392.6,362.1 393.1,362.1 393.6,362.1 394.1,362.1 394.6,362.1 395.1,362.1 395.6,362.1 396.1,362.1 396.6,362.1 397.1,362.1 397.6,362.1 398.1,362.1 398.6,362.1 399.1,362.1 399.6,362.1 400.1,362.1 400.6,362.1 401.1,362.1 401.6,362.1 402.1,362.1 402.6,362.0 403.1,362.0 403.7,361.8 404.2,361.5 404.7,361.3 405.2,361.3 405.7,361.5 406.2,361.7 406.7,361.9 407.2,362.0 407.7,362.1 408.2,362.1 408.7,362.1 409.2,362.1 409.7,362.1 410.2,362.1 410.7,362.1 411.2,362.1 411.7,362.1 412.2,362.1 412.7,362.1 413.2,362.1 413.7,362.1 414.2,362.1 414.7,362.1 415.2,362.0 415.7,361.2 416.2,358.0 416.7,353.3 417.2,352.6 417.7,357.1 418.2,360.8 418.7,361.9 419.2,362.1 419.7,362.1 420.2,362.1 420.7,362.1 421.2,361.9 421.7,361.1 422.2,359.2 422.7,358.1 423.2,359.4 423.7,361.2 424.2,361.9 424.7,362.1 425.2,361.9 425.7,361.2 426.2,360.3 426.7,360.2 427.2,361.2 427.7,361.9 428.2,362.1 428.7,362.1 429.2,362.1 429.7,362.1 430.2,362.1 430.8,362.1 431.3,362.1 431.8,362.1 432.3,362.1 432.8,362.1 433.3,362.1 433.8,362.1 434.3,362.1 434.8,362.1 435.3,362.1 435.8,362.1 436.3,362.1 436.8,362.0 437.3,361.8 437.8,361.4 438.3,360.7 438.8,359.8 439.3,359.2 439.8,359.2 440.3,359.9 440.8,360.8 441.3,361.5 441.8,361.9 442.3,361.7 442.8,360.4 443.3,357.2 443.8,355.1 444.3,357.2 444.8,360.4 445.3,361.8 445.8,362.1 446.3,362.1 446.8,362.1 447.3,362.1 447.8,362.1 448.3,362.1 448.8,362.1 449.3,362.1 449.8,362.1 450.3,362.1 450.8,362.1 451.3,362.1 451.8,362.1 452.3,362.1 452.8,362.0 453.3,361.8 453.8,361.6 454.3,361.3 454.8,361.1 455.3,361.2 455.8,361.4 456.3,361.7 456.8,361.9 457.4,362.0 457.9,362.1 458.4,362.1 458.9,362.1 459.4,362.1 459.9,362.1 460.4,362.1 460.9,362.1 461.4,362.1 461.9,362.1 462.4,362.1 462.9,362.1 463.4,362.1 463.9,362.1 464.4,362.1 464.9,362.1 465.4,362.1 465.9,362.1 466.4,362.1 466.9,362.1 467.4,362.1 467.9,362.1 468.4,362.1 468.9,362.1 469.4,362.1 469.9,362.1 470.4,362.1" fill="none" stroke="#888" stroke-width="0.75"/>
<rect x="121.8" y="377.6" width="82.8" height="14.8" fill="none" stroke="#4a4a4a" stroke-width="1.3"/>
<line x1="122.8" y1="390.8" x2="203.6" y2="390.8" stroke="#cfcfcf" stroke-width="0.8"/>
<polyline points="122.8,391.1 123.3,391.1 123.8,391.1 124.3,391.1 124.8,391.1 125.3,391.1 125.8,391.1 126.3,391.1 126.8,391.1 127.3,391.0 127.8,391.0 128.3,391.0 128.8,390.9 129.3,390.8 129.8,390.7 130.3,390.6 130.8,390.5 131.3,390.3 131.8,390.1 132.3,389.8 132.8,389.5 133.3,389.3 133.8,389.0 134.3,388.7 134.8,388.4 135.3,388.1 135.8,387.9 136.4,387.7 136.9,387.6 137.4,387.6 137.9,387.6 138.4,387.8 138.9,387.9 139.4,388.2 139.9,388.4 140.4,388.7 140.9,389.0 141.4,389.3 141.9,389.6 142.4,389.9 142.9,390.1 143.4,390.3 143.9,390.5 144.4,390.6 144.9,390.8 145.4,390.9 145.9,390.9 146.4,391.0 146.9,391.0 147.4,391.0 147.9,391.1 148.4,391.1 148.9,391.1 149.4,391.1 149.9,391.0 150.4,391.0 150.9,390.9 151.4,390.8 151.9,390.7 152.4,390.6 152.9,390.4 153.4,390.3 153.9,390.2 154.4,390.1 154.9,390.1 155.4,390.2 155.9,390.3 156.4,390.4 156.9,390.6 157.4,390.7 157.9,390.8 158.4,390.9 158.9,391.0 159.4,391.0 159.9,391.1 160.4,391.1 160.9,391.1 161.4,391.1 161.9,391.1 162.4,391.1 162.9,391.1 163.5,391.1 164.0,391.0 164.5,391.0 165.0,390.9 165.5,390.9 166.0,390.8 166.5,390.7 167.0,390.6 167.5,390.4 168.0,390.2 168.5,390.0 169.0,389.7 169.5,389.5 170.0,389.2 170.5,388.9 171.0,388.6 171.5,388.4 172.0,388.1 172.5,388.0 173.0,387.9 173.5,387.8 174.0,387.8 174.5,387.9 175.0,388.1 175.5,388.3 176.0,388.5 176.5,388.8 177.0,389.0 177.5,389.3 178.0,389.6 178.5,389.9 179.0,390.1 179.5,390.3 180.0,390.5 180.5,390.6 181.0,390.8 181.5,390.8 182.0,390.9 182.5,391.0 183.0,391.0 183.5,391.0 184.0,391.1 184.5,391.1 185.0,391.1 185.5,391.1 186.0,390.9 186.5,390.1 187.0,389.6 187.5,390.3 188.0,390.9 188.5,391.1 189.0,391.1 189.5,391.1 190.0,391.1 190.6,391.1 191.1,390.8 191.6,389.8 192.1,389.1 192.6,390.0 193.1,390.9 193.6,391.1 194.1,391.1 194.6,391.1 195.1,391.1 195.6,391.1 196.1,391.1 196.6,391.1 197.1,390.8 197.6,390.1 198.1,389.6 198.6,390.3 199.1,391.0 199.6,391.1 200.1,391.1 200.6,391.1 201.1,391.1 201.6,391.1 202.1,391.1 202.6,391.1 203.1,391.1 203.6,391.1" fill="none" stroke="#767676" stroke-width="0.75"/>
<rect x="211.4" y="377.3" width="83.2" height="14.8" fill="none" stroke="#4a4a4a" stroke-width="1.3"/>
<line x1="212.4" y1="390.5" x2="293.6" y2="390.5" stroke="#cfcfcf" stroke-width="0.8"/>
<polyline points="212.4,390.8 212.9,390.8 213.4,390.7 213.9,390.7 214.4,390.7 214.9,390.7 215.4,390.6 215.9,390.5 216.4,390.4 216.9,390.3 217.4,390.2 217.9,390.0 218.4,389.8 218.9,389.5 219.4,389.2 219.9,388.9 220.4,388.6 220.9,388.2 221.4,387.8 221.9,387.4 222.4,387.1 222.9,386.7 223.4,386.4 223.9,386.2 224.4,386.0 224.9,385.9 225.4,385.8 225.9,385.8 226.4,385.9 226.9,386.1 227.4,386.4 227.9,386.6 228.4,387.0 228.9,387.3 229.4,387.7 229.9,388.1 230.4,388.5 230.9,388.8 231.4,389.1 231.9,389.4 232.4,389.7 233.0,389.9 233.5,390.1 234.0,390.3 234.5,390.4 235.0,390.5 235.5,390.6 236.0,390.6 236.5,390.7 237.0,390.7 237.5,390.7 238.0,390.8 238.5,390.8 239.0,390.8 239.5,390.8 240.0,390.8 240.5,390.8 241.0,390.8 241.5,390.8 242.0,390.8 242.5,390.8 243.0,390.8 243.5,390.8 244.0,390.8 244.5,390.8 245.0,390.8 245.5,390.8 246.0,390.8 246.5,390.8 247.0,390.8 247.5,390.8 248.0,390.8 248.5,390.8 249.0,390.8 249.5,390.8 250.0,390.8 250.5,390.8 251.0,390.8 251.5,390.7 252.0,390.7 252.5,390.7 253.0,390.6 253.5,390.5 254.0,390.4 254.5,390.3 255.0,390.2 255.5,390.0 256.0,389.7 256.5,389.4 257.0,389.1 257.5,388.8 258.0,388.3 258.5,387.9 259.0,387.4 259.5,386.9 260.0,386.4 260.5,386.0 261.0,385.5 261.5,385.1 262.0,384.8 262.5,384.5 263.0,384.4 263.5,384.3 264.0,384.3 264.5,384.5 265.0,384.7 265.5,385.0 266.0,385.4 266.5,385.8 267.0,386.3 267.5,386.8 268.0,387.3 268.5,387.8 269.0,388.2 269.5,388.6 270.0,389.0 270.5,389.4 271.0,389.6 271.5,389.9 272.0,390.1 272.5,390.3 273.0,390.4 273.6,390.5 274.1,390.6 274.6,390.6 275.1,390.7 275.6,390.7 276.1,390.7 276.6,390.8 277.1,390.8 277.6,390.8 278.1,390.8 278.6,390.8 279.1,390.7 279.6,390.7 280.1,390.6 280.6,390.4 281.1,390.2 281.6,389.9 282.1,389.5 282.6,389.2 283.1,388.8 283.6,388.5 284.1,388.3 284.6,388.3 285.1,388.4 285.6,388.7 286.1,389.0 286.6,389.4 287.1,389.8 287.6,390.1 288.1,390.3 288.6,390.5 289.1,390.6 289.6,390.7 290.1,390.8 290.6,390.8 291.1,390.8 291.6,390.8 292.1,390.8 292.6,390.8 293.1,390.8 293.6,390.8" fill="none" stroke="#767676" stroke-width="0.75"/>
<rect x="298.8" y="376.8" width="82.4" height="14.8" fill="none" stroke="#4a4a4a" stroke-width="1.3"/>
<line x1="299.8" y1="390.0" x2="380.2" y2="390.0" stroke="#cfcfcf" stroke-width="0.8"/>
<polyline points="299.8,390.3 300.3,390.3 300.8,390.3 301.3,390.3 301.8,390.3 302.3,390.3 302.8,390.3 303.3,390.3 303.8,390.3 304.3,390.3 304.8,390.3 305.3,390.3 305.8,390.3 306.3,390.3 306.8,390.3 307.3,390.3 307.8,390.3 308.3,390.3 308.8,390.3 309.3,390.3 309.9,390.3 310.4,390.2 310.9,390.0 311.4,389.7 311.9,389.0 312.4,388.3 312.9,387.8 313.4,388.0 313.9,388.6 314.4,389.3 314.9,389.9 315.4,390.2 315.9,390.3 316.4,390.3 316.9,390.3 317.4,390.3 317.9,390.3 318.4,390.3 318.9,390.3 319.4,390.3 319.9,390.3 320.4,390.3 320.9,390.3 321.4,390.3 321.9,390.3 322.4,390.3 322.9,390.3 323.4,390.3 323.9,390.3 324.4,390.3 324.9,390.3 325.4,390.3 325.9,390.3 326.4,390.3 326.9,390.3 327.4,390.3 327.9,390.3 328.4,390.3 328.9,390.3 329.4,390.3 329.9,390.3 330.5,390.3 331.0,390.3 331.5,390.3 332.0,390.3 332.5,390.3 333.0,390.3 333.5,390.3 334.0,390.3 334.5,390.3 335.0,390.3 335.5,390.3 336.0,390.3 336.5,390.3 337.0,390.3 337.5,390.3 338.0,390.3 338.5,390.3 339.0,390.2 339.5,390.2 340.0,390.2 340.5,390.1 341.0,390.1 341.5,390.0 342.0,389.9 342.5,389.8 343.0,389.7 343.5,389.5 344.0,389.3 344.5,389.1 345.0,388.9 345.5,388.6 346.0,388.4 346.5,388.1 347.0,387.8 347.5,387.6 348.0,387.4 348.5,387.2 349.0,387.0 349.5,386.9 350.1,386.8 350.6,386.8 351.1,386.8 351.6,386.9 352.1,387.1 352.6,387.3 353.1,387.5 353.6,387.7 354.1,388.0 354.6,388.3 355.1,388.5 355.6,388.8 356.1,389.0 356.6,389.2 357.1,389.4 357.6,389.6 358.1,389.7 358.6,389.9 359.1,390.0 359.6,390.1 360.1,390.1 360.6,390.2 361.1,390.2 361.6,390.2 362.1,390.3 362.6,390.3 363.1,390.3 363.6,390.3 364.1,390.3 364.6,390.3 365.1,390.3 365.6,390.3 366.1,390.2 366.6,390.2 367.1,390.1 367.6,390.1 368.1,389.9 368.6,389.8 369.1,389.6 369.6,389.5 370.1,389.4 370.7,389.3 371.2,389.3 371.7,389.4 372.2,389.5 372.7,389.6 373.2,389.7 373.7,389.9 374.2,390.0 374.7,390.1 375.2,390.2 375.7,390.2 376.2,390.3 376.7,390.3 377.2,390.3 377.7,390.3 378.2,390.3 378.7,390.3 379.2,390.3 379.7,390.3 380.2,390.3" fill="none" stroke="#767676" stroke-width="0.75"/>
<rect x="389.1" y="376.0" width="82.3" height="14.8" fill="none" stroke="#4a4a4a" stroke-width="1.3"/>
<line x1="390.1" y1="389.2" x2="470.4" y2="389.2" stroke="#cfcfcf" stroke-width="0.8"/>
<polyline points="390.1,389.5 390.6,389.5 391.1,389.5 391.6,389.5 392.1,389.4 392.6,389.4 393.1,389.4 393.6,389.3 394.1,389.3 394.6,389.2 395.1,389.1 395.6,388.9 396.1,388.8 396.6,388.6 397.1,388.4 397.6,388.1 398.1,387.8 398.6,387.5 399.1,387.1 399.6,386.7 400.1,386.4 400.6,386.0 401.1,385.6 401.6,385.3 402.1,385.0 402.6,384.8 403.1,384.6 403.7,384.5 404.2,384.5 404.7,384.6 405.2,384.7 405.7,384.9 406.2,385.2 406.7,385.5 407.2,385.8 407.7,386.2 408.2,386.6 408.7,387.0 409.2,387.3 409.7,387.7 410.2,388.0 410.7,388.3 411.2,388.5 411.7,388.7 412.2,388.9 412.7,389.0 413.2,389.1 413.7,389.2 414.2,389.3 414.7,389.4 415.2,389.4 415.7,389.4 416.2,389.5 416.7,389.5 417.2,389.5 417.7,389.5 418.2,389.5 418.7,389.5 419.2,389.5 419.7,389.5 420.2,389.5 420.7,389.5 421.2,389.5 421.7,389.5 422.2,389.5 422.7,389.5 423.2,389.5 423.7,389.5 424.2,389.5 424.7,389.5 425.2,389.5 425.7,389.5 426.2,389.5 426.7,389.5 427.2,389.5 427.7,389.5 428.2,389.5 428.7,389.5 429.2,389.5 429.7,389.5 430.2,389.5 430.8,389.5 431.3,389.4 431.8,389.4 432.3,389.4 432.8,389.3 433.3,389.2 433.8,389.1 434.3,388.9 434.8,388.7 435.3,388.5 435.8,388.2 436.3,387.8 436.8,387.4 437.3,386.9 437.8,386.4 438.3,385.8 438.8,385.2 439.3,384.7 439.8,384.2 440.3,383.7 440.8,383.4 441.3,383.1 441.8,383.0 442.3,383.0 442.8,383.2 443.3,383.4 443.8,383.8 444.3,384.3 444.8,384.8 445.3,385.3 445.8,385.9 446.3,386.5 446.8,387.0 447.3,387.4 447.8,387.9 448.3,388.2 448.8,388.5 449.3,388.8 449.8,389.0 450.3,389.1 450.8,389.2 451.3,389.3 451.8,389.4 452.3,389.4 452.8,389.4 453.3,389.5 453.8,389.5 454.3,389.5 454.8,389.5 455.3,389.5 455.8,389.5 456.3,389.5 456.8,389.5 457.4,389.5 457.9,389.5 458.4,389.5 458.9,389.5 459.4,389.4 459.9,389.3 460.4,389.2 460.9,389.0 461.4,388.8 461.9,388.4 462.4,388.1 462.9,387.7 463.4,387.4 463.9,387.1 464.4,387.0 464.9,387.0 465.4,387.2 465.9,387.5 466.4,387.9 466.9,388.3 467.4,388.6 467.9,388.9 468.4,389.1 468.9,389.3 469.4,389.4 469.9,389.4 470.4,389.5" fill="none" stroke="#767676" stroke-width="0.75"/>
<rect x="121.8" y="396.7" width="82.8" height="15.3" fill="none" stroke="#4a4a4a" stroke-width="1.3"/>
<line x1="122.8" y1="410.4" x2="203.6" y2="410.4" stroke="#cfcfcf" stroke-width="0.8"/>
<polyline points="122.8,410.7 123.3,410.7 123.8,410.7 124.3,410.7 124.8,410.7 125.3,410.6 125.8,410.6 126.3,410.6 126.8,410.5 127.3,410.5 127.8,410.4 128.3,410.3 128.8,410.1 129.3,409.9 129.8,409.7 130.3,409.4 130.8,409.2 131.3,408.8 131.8,408.5 132.3,408.2 132.8,407.8 133.3,407.5 133.8,407.3 134.3,407.0 134.8,406.9 135.3,406.8 135.8,406.8 136.4,406.9 136.9,407.0 137.4,407.3 137.9,407.5 138.4,407.8 138.9,408.2 139.4,408.5 139.9,408.8 140.4,409.2 140.9,409.4 141.4,409.7 141.9,409.9 142.4,410.1 142.9,410.3 143.4,410.4 143.9,410.5 144.4,410.5 144.9,410.6 145.4,410.6 145.9,410.6 146.4,410.7 146.9,410.7 147.4,410.7 147.9,410.7 148.4,410.7 148.9,410.7 149.4,410.7 149.9,410.6 150.4,410.6 150.9,410.5 151.4,410.4 151.9,410.3 152.4,410.2 152.9,410.0 153.4,409.9 153.9,409.8 154.4,409.7 154.9,409.7 155.4,409.8 155.9,409.9 156.4,410.0 156.9,410.2 157.4,410.3 157.9,410.5 158.4,410.5 158.9,410.6 159.4,410.6 159.9,410.7 160.4,410.7 160.9,410.7 161.4,410.7 161.9,410.7 162.4,410.7 162.9,410.7 163.5,410.7 164.0,410.7 164.5,410.7 165.0,410.7 165.5,410.7 166.0,410.7 166.5,410.6 167.0,410.6 167.5,410.6 168.0,410.5 168.5,410.4 169.0,410.2 169.5,410.0 170.0,409.8 170.5,409.5 171.0,409.1 171.5,408.7 172.0,408.3 172.5,407.8 173.0,407.4 173.5,406.9 174.0,406.6 174.5,406.3 175.0,406.1 175.5,406.1 176.0,406.2 176.5,406.4 177.0,406.7 177.5,407.1 178.0,407.5 178.5,408.0 179.0,408.5 179.5,408.9 180.0,409.3 180.5,409.6 181.0,409.9 181.5,410.1 182.0,410.3 182.5,410.4 183.0,410.5 183.5,410.6 184.0,410.6 184.5,410.7 185.0,410.7 185.5,410.7 186.0,410.7 186.5,410.7 187.0,410.7 187.5,410.7 188.0,410.7 188.5,410.7 189.0,410.7 189.5,410.7 190.0,410.7 190.6,410.7 191.1,410.7 191.6,410.7 192.1,410.6 192.6,410.5 193.1,410.3 193.6,410.1 194.1,409.9 194.6,409.7 195.1,409.5 195.6,409.5 196.1,409.6 196.6,409.8 197.1,410.1 197.6,410.3 198.1,410.5 198.6,410.6 199.1,410.6 199.6,410.7 200.1,410.7 200.6,410.7 201.1,410.7 201.6,410.7 202.1,410.7 202.6,410.7 203.1,410.7 203.6,410.7" fill="none" stroke="#767676" stroke-width="0.75"/>
<rect x="211.4" y="396.4" width="83.2" height="15.3" fill="none" stroke="#4a4a4a" stroke-width="1.3"/>
<line x1="212.4" y1="410.1" x2="293.6" y2="410.1" stroke="#cfcfcf" stroke-width="0.8"/>
<polyline points="212.4,410.4 212.9,410.4 213.4,410.4 213.9,410.4 214.4,410.4 214.9,410.4 215.4,410.4 215.9,410.4 216.4,410.4 216.9,410.4 217.4,410.3 217.9,410.3 218.4,410.3 218.9,410.2 219.4,410.1 219.9,410.0 220.4,409.8 220.9,409.6 221.4,409.4 221.9,409.3 222.4,409.1 222.9,409.0 223.4,408.9 223.9,408.9 224.4,408.9 224.9,409.0 225.4,409.2 225.9,409.4 226.4,409.5 226.9,409.7 227.4,409.9 227.9,410.0 228.4,410.1 228.9,410.2 229.4,410.3 229.9,410.3 230.4,410.4 230.9,410.4 231.4,410.4 231.9,410.4 232.4,410.4 233.0,410.4 233.5,410.4 234.0,410.4 234.5,410.4 235.0,410.4 235.5,410.4 236.0,410.4 236.5,410.4 237.0,410.4 237.5,410.4 238.0,410.4 238.5,410.4 239.0,410.4 239.5,410.4 240.0,410.4 240.5,410.4 241.0,410.4 241.5,410.4 242.0,410.4 242.5,410.4 243.0,410.4 243.5,410.4 244.0,410.4 244.5,410.4 245.0,410.4 245.5,410.4 246.0,410.4 246.5,410.4 247.0,410.4 247.5,410.4 248.0,410.4 248.5,410.4 249.0,410.4 249.5,410.4 250.0,410.4 250.5,410.4 251.0,410.4 251.5,410.4 252.0,410.4 252.5,410.4 253.0,410.4 253.5,410.3 254.0,410.3 254.5,410.3 255.0,410.3 255.5,410.2 256.0,410.1 256.5,410.0 257.0,409.9 257.5,409.8 258.0,409.6 258.5,409.5 259.0,409.2 259.5,409.0 260.0,408.7 260.5,408.4 261.0,408.1 261.5,407.8 262.0,407.5 262.5,407.3 263.0,407.0 263.5,406.8 264.0,406.6 264.5,406.5 265.0,406.4 265.5,406.4 266.0,406.5 266.5,406.6 267.0,406.8 267.5,407.0 268.0,407.2 268.5,407.5 269.0,407.8 269.5,408.1 270.0,408.4 270.5,408.7 271.0,409.0 271.5,409.2 272.0,409.4 272.5,409.6 273.0,409.8 273.6,409.9 274.1,410.0 274.6,410.1 275.1,410.2 275.6,410.3 276.1,410.3 276.6,410.3 277.1,410.3 277.6,410.4 278.1,410.4 278.6,410.4 279.1,410.4 279.6,410.3 280.1,409.9 280.6,408.4 281.1,405.3 281.6,401.7 282.1,400.4 282.6,402.7 283.1,406.3 283.6,409.0 284.1,410.1 284.6,410.3 285.1,410.4 285.6,410.4 286.1,410.4 286.6,410.4 287.1,410.4 287.6,410.4 288.1,410.4 288.6,410.4 289.1,410.4 289.6,410.4 290.1,410.4 290.6,410.4 291.1,410.4 291.6,410.4 292.1,410.4 292.6,410.4 293.1,410.4 293.6,410.4" fill="none" stroke="#767676" stroke-width="0.75"/>
<rect x="298.8" y="395.9" width="82.4" height="15.3" fill="none" stroke="#4a4a4a" stroke-width="1.3"/>
<line x1="299.8" y1="409.6" x2="380.2" y2="409.6" stroke="#cfcfcf" stroke-width="0.8"/>
<polyline points="299.8,409.9 300.3,409.9 300.8,409.9 301.3,409.9 301.8,409.9 302.3,409.9 302.8,409.8 303.3,409.8 303.8,409.8 304.3,409.7 304.8,409.7 305.3,409.6 305.8,409.5 306.3,409.4 306.8,409.2 307.3,409.1 307.8,408.9 308.3,408.7 308.8,408.5 309.3,408.4 309.9,408.2 310.4,408.0 310.9,407.9 311.4,407.8 311.9,407.7 312.4,407.7 312.9,407.7 313.4,407.8 313.9,407.9 314.4,408.1 314.9,408.2 315.4,408.4 315.9,408.6 316.4,408.8 316.9,409.0 317.4,409.1 317.9,409.3 318.4,409.4 318.9,409.5 319.4,409.6 319.9,409.7 320.4,409.7 320.9,409.8 321.4,409.8 321.9,409.8 322.4,409.9 322.9,409.9 323.4,409.9 323.9,409.9 324.4,409.9 324.9,409.9 325.4,409.9 325.9,409.9 326.4,409.9 326.9,409.9 327.4,409.9 327.9,409.9 328.4,409.9 328.9,409.9 329.4,409.9 329.9,409.9 330.5,409.9 331.0,409.9 331.5,409.9 332.0,409.9 332.5,409.9 333.0,409.9 333.5,409.9 334.0,409.9 334.5,409.9 335.0,409.9 335.5,409.9 336.0,409.9 336.5,409.9 337.0,409.9 337.5,409.9 338.0,409.9 338.5,409.9 339.0,409.9 339.5,409.9 340.0,409.9 340.5,409.9 341.0,409.9 341.5,409.8 342.0,409.8 342.5,409.8 343.0,409.7 343.5,409.6 344.0,409.5 344.5,409.3 345.0,409.1 345.5,408.9 346.0,408.6 346.5,408.2 347.0,407.8 347.5,407.4 348.0,406.9 348.5,406.4 349.0,405.9 349.5,405.4 350.1,405.0 350.6,404.7 351.1,404.4 351.6,404.2 352.1,404.2 352.6,404.3 353.1,404.5 353.6,404.7 354.1,405.1 354.6,405.5 355.1,406.0 355.6,406.5 356.1,407.0 356.6,407.5 357.1,407.9 357.6,408.3 358.1,408.6 358.6,408.9 359.1,409.2 359.6,409.4 360.1,409.5 360.6,409.6 361.1,409.7 361.6,409.8 362.1,409.8 362.6,409.8 363.1,409.9 363.6,409.9 364.1,409.9 364.6,409.9 365.1,409.9 365.6,409.9 366.1,409.9 366.6,409.9 367.1,409.8 367.6,409.8 368.1,409.7 368.6,409.5 369.1,409.3 369.6,409.0 370.1,408.5 370.7,408.0 371.2,407.5 371.7,407.0 372.2,406.6 372.7,406.4 373.2,406.4 373.7,406.6 374.2,407.0 374.7,407.5 375.2,408.1 375.7,408.6 376.2,409.0 376.7,409.3 377.2,409.5 377.7,409.7 378.2,409.8 378.7,409.8 379.2,409.9 379.7,409.9 380.2,409.9" fill="none" stroke="#767676" stroke-width="0.75"/>
<rect x="389.1" y="394.9" width="82.3" height="15.3" fill="none" stroke="#4a4a4a" stroke-width="1.3"/>
<line x1="390.1" y1="408.6" x2="470.4" y2="408.6" stroke="#cfcfcf" stroke-width="0.8"/>
<polyline points="390.1,408.9 390.6,408.9 391.1,408.8 391.6,408.8 392.1,408.8 392.6,408.7 393.1,408.6 393.6,408.6 394.1,408.5 394.6,408.3 395.1,408.2 395.6,408.0 396.1,407.8 396.6,407.6 397.1,407.4 397.6,407.1 398.1,406.9 398.6,406.6 399.1,406.3 399.6,406.1 400.1,405.9 400.6,405.7 401.1,405.5 401.6,405.4 402.1,405.4 402.6,405.4 403.1,405.5 403.7,405.6 404.2,405.8 404.7,406.0 405.2,406.2 405.7,406.4 406.2,406.7 406.7,407.0 407.2,407.2 407.7,407.5 408.2,407.7 408.7,407.9 409.2,408.1 409.7,408.3 410.2,408.4 410.7,408.5 411.2,408.6 411.7,408.7 412.2,408.7 412.7,408.8 413.2,408.8 413.7,408.8 414.2,408.9 414.7,408.9 415.2,408.9 415.7,408.9 416.2,408.9 416.7,408.9 417.2,408.9 417.7,408.9 418.2,408.9 418.7,408.9 419.2,408.9 419.7,408.9 420.2,408.9 420.7,408.9 421.2,408.9 421.7,408.9 422.2,408.9 422.7,408.9 423.2,408.9 423.7,408.9 424.2,408.9 424.7,408.9 425.2,408.9 425.7,408.9 426.2,408.9 426.7,408.9 427.2,408.9 427.7,408.9 428.2,408.9 428.7,408.9 429.2,408.9 429.7,408.9 430.2,408.9 430.8,408.9 431.3,408.8 431.8,408.8 432.3,408.8 432.8,408.7 433.3,408.6 433.8,408.5 434.3,408.4 434.8,408.2 435.3,408.0 435.8,407.7 436.3,407.4 436.8,407.0 437.3,406.6 437.8,406.1 438.3,405.7 438.8,405.2 439.3,404.7 439.8,404.2 440.3,403.8 440.8,403.5 441.3,403.3 441.8,403.2 442.3,403.2 442.8,403.3 443.3,403.6 443.8,403.9 444.3,404.3 444.8,404.8 445.3,405.3 445.8,405.7 446.3,406.2 446.8,406.7 447.3,407.1 447.8,407.5 448.3,407.8 448.8,408.0 449.3,408.3 449.8,408.4 450.3,408.6 450.8,408.7 451.3,408.7 451.8,408.8 452.3,408.8 452.8,408.9 453.3,408.9 453.8,408.9 454.3,408.9 454.8,408.9 455.3,408.9 455.8,408.9 456.3,408.9 456.8,408.9 457.4,408.8 457.9,408.8 458.4,408.6 458.9,408.5 459.4,408.2 459.9,407.9 460.4,407.5 460.9,407.0 461.4,406.6 461.9,406.2 462.4,406.0 462.9,405.9 463.4,406.0 463.9,406.3 464.4,406.7 464.9,407.2 465.4,407.6 465.9,408.0 466.4,408.3 466.9,408.5 467.4,408.7 467.9,408.8 468.4,408.8 468.9,408.9 469.4,408.9 469.9,408.9 470.4,408.9" fill="none" stroke="#767676" stroke-width="0.75"/>
<rect x="121.8" y="435.6" width="82.8" height="15.4" fill="none" stroke="#4a4a4a" stroke-width="1.3"/>
<line x1="122.8" y1="449.4" x2="203.6" y2="449.4" stroke="#cfcfcf" stroke-width="0.8"/>
<polyline points="122.8,449.7 123.3,449.7 123.8,449.7 124.3,449.7 124.8,449.7 125.3,449.7 125.8,449.7 126.3,449.7 126.8,449.7 127.3,449.7 127.8,449.7 128.3,449.7 128.8,449.7 129.3,449.7 129.8,449.7 130.3,449.7 130.8,449.7 131.3,449.7 131.8,449.7 132.3,449.7 132.8,449.7 133.3,449.7 133.8,449.7 134.3,449.7 134.8,449.7 135.3,449.7 135.8,449.7 136.4,449.7 136.9,449.7 137.4,449.7 137.9,449.7 138.4,449.7 138.9,449.7 139.4,449.7 139.9,449.7 140.4,449.7 140.9,449.7 141.4,449.7 141.9,449.7 142.4,449.7 142.9,449.7 143.4,449.7 143.9,449.7 144.4,449.7 144.9,449.7 145.4,449.7 145.9,449.7 146.4,449.7 146.9,449.7 147.4,449.7 147.9,449.7 148.4,449.7 148.9,449.7 149.4,449.7 149.9,449.7 150.4,449.7 150.9,449.7 151.4,449.7 151.9,449.7 152.4,449.7 152.9,449.7 153.4,449.7 153.9,449.7 154.4,449.7 154.9,449.7 155.4,449.7 155.9,449.7 156.4,449.7 156.9,449.7 157.4,449.7 157.9,449.7 158.4,449.7 158.9,449.7 159.4,449.7 159.9,449.7 160.4,449.7 160.9,449.7 161.4,449.7 161.9,449.7 162.4,449.7 162.9,449.7 163.5,449.7 164.0,449.7 164.5,449.7 165.0,449.7 165.5,449.7 166.0,449.7 166.5,449.7 167.0,449.7 167.5,449.7 168.0,449.7 168.5,449.7 169.0,449.7 169.5,449.7 170.0,449.7 170.5,449.7 171.0,449.7 171.5,449.6 172.0,449.6 172.5,449.6 173.0,449.6 173.5,449.5 174.0,449.5 174.5,449.4 175.0,449.4 175.5,449.3 176.0,449.2 176.5,449.1 177.0,449.0 177.5,448.8 178.0,448.7 178.5,448.5 179.0,448.3 179.5,448.1 180.0,447.9 180.5,447.7 181.0,447.5 181.5,447.2 182.0,447.0 182.5,446.7 183.0,446.5 183.5,446.2 184.0,446.0 184.5,445.8 185.0,445.4 185.5,444.9 186.0,444.0 186.5,442.8 187.0,441.6 187.5,441.2 188.0,441.8 188.5,443.0 189.0,444.2 189.5,445.0 190.0,445.5 190.6,445.8 191.1,446.0 191.6,446.3 192.1,446.5 192.6,446.8 193.1,447.0 193.6,447.2 194.1,447.5 194.6,447.7 195.1,448.0 195.6,448.2 196.1,448.4 196.6,448.5 197.1,448.7 197.6,448.9 198.1,449.0 198.6,449.1 199.1,449.2 199.6,449.3 200.1,449.4 200.6,449.4 201.1,449.5 201.6,449.5 202.1,449.6 202.6,449.6 203.1,449.6 203.6,449.6" fill="none" stroke="#767676" stroke-width="0.75"/>
<rect x="211.4" y="435.6" width="83.2" height="15.4" fill="none" stroke="#4a4a4a" stroke-width="1.3"/>
<line x1="212.4" y1="449.4" x2="293.6" y2="449.4" stroke="#cfcfcf" stroke-width="0.8"/>
<polyline points="212.4,449.7 212.9,449.7 213.4,449.7 213.9,449.7 214.4,449.7 214.9,449.7 215.4,449.7 215.9,449.7 216.4,449.7 216.9,449.7 217.4,449.7 217.9,449.7 218.4,449.7 218.9,449.7 219.4,449.7 219.9,449.7 220.4,449.7 220.9,449.7 221.4,449.7 221.9,449.7 222.4,449.7 222.9,449.7 223.4,449.7 223.9,449.7 224.4,449.7 224.9,449.7 225.4,449.7 225.9,449.7 226.4,449.7 226.9,449.7 227.4,449.7 227.9,449.7 228.4,449.7 228.9,449.7 229.4,449.7 229.9,449.7 230.4,449.7 230.9,449.7 231.4,449.7 231.9,449.7 232.4,449.7 233.0,449.7 233.5,449.7 234.0,449.7 234.5,449.7 235.0,449.7 235.5,449.7 236.0,449.7 236.5,449.7 237.0,449.7 237.5,449.7 238.0,449.7 238.5,449.7 239.0,449.7 239.5,449.7 240.0,449.7 240.5,449.7 241.0,449.7 241.5,449.7 242.0,449.7 242.5,449.7 243.0,449.7 243.5,449.7 244.0,449.7 244.5,449.7 245.0,449.7 245.5,449.7 246.0,449.7 246.5,449.7 247.0,449.7 247.5,449.7 248.0,449.7 248.5,449.7 249.0,449.7 249.5,449.7 250.0,449.7 250.5,449.7 251.0,449.7 251.5,449.7 252.0,449.7 252.5,449.7 253.0,449.7 253.5,449.7 254.0,449.7 254.5,449.7 255.0,449.7 255.5,449.7 256.0,449.7 256.5,449.7 257.0,449.7 257.5,449.7 258.0,449.7 258.5,449.7 259.0,449.7 259.5,449.7 260.0,449.7 260.5,449.7 261.0,449.7 261.5,449.7 262.0,449.7 262.5,449.7 263.0,449.7 263.5,449.7 264.0,449.7 264.5,449.7 265.0,449.7 265.5,449.7 266.0,449.7 266.5,449.7 267.0,449.7 267.5,449.7 268.0,449.7 268.5,449.7 269.0,449.6 269.5,449.3 270.0,448.9 270.5,448.7 271.0,449.0 271.5,449.4 272.0,449.6 272.5,449.7 273.0,449.6 273.6,449.3 274.1,448.5 274.6,447.3 275.1,446.7 275.6,447.5 276.1,448.7 276.6,449.4 277.1,449.7 277.6,449.6 278.1,449.3 278.6,448.3 279.1,446.5 279.6,444.7 280.1,444.3 280.6,445.8 281.1,447.8 281.6,449.1 282.1,449.5 282.6,449.6 283.1,449.1 283.6,448.0 284.1,446.6 284.6,446.3 285.1,447.5 285.6,448.9 286.1,449.5 286.6,449.7 287.1,449.7 287.6,449.7 288.1,449.7 288.6,449.7 289.1,449.7 289.6,449.7 290.1,449.7 290.6,449.7 291.1,449.7 291.6,449.7 292.1,449.7 292.6,449.7 293.1,449.7 293.6,449.7" fill="none" stroke="#767676" stroke-width="0.75"/>
<rect x="298.8" y="435.6" width="82.4" height="15.4" fill="none" stroke="#4a4a4a" stroke-width="1.3"/>
<line x1="299.8" y1="449.4" x2="380.2" y2="449.4" stroke="#cfcfcf" stroke-width="0.8"/>
<polyline points="299.8,449.7 300.3,449.7 300.8,449.7 301.3,449.7 301.8,449.7 302.3,449.7 302.8,449.7 303.3,449.7 303.8,449.7 304.3,449.7 304.8,449.7 305.3,449.7 305.8,449.7 306.3,449.7 306.8,449.7 307.3,449.7 307.8,449.7 308.3,449.7 308.8,449.7 309.3,449.7 309.9,449.7 310.4,449.7 310.9,449.7 311.4,449.7 311.9,449.7 312.4,449.7 312.9,449.7 313.4,449.7 313.9,449.7 314.4,449.7 314.9,449.7 315.4,449.7 315.9,449.7 316.4,449.7 316.9,449.7 317.4,449.7 317.9,449.7 318.4,449.7 318.9,449.7 319.4,449.7 319.9,449.7 320.4,449.7 320.9,449.7 321.4,449.7 321.9,449.7 322.4,449.7 322.9,449.7 323.4,449.7 323.9,449.7 324.4,449.7 324.9,449.7 325.4,449.7 325.9,449.7 326.4,449.7 326.9,449.7 327.4,449.7 327.9,449.7 328.4,449.7 328.9,449.7 329.4,449.7 329.9,449.7 330.5,449.7 331.0,449.7 331.5,449.7 332.0,449.7 332.5,449.7 333.0,449.7 333.5,449.7 334.0,449.7 334.5,449.7 335.0,449.7 335.5,449.7 336.0,449.7 336.5,449.7 337.0,449.7 337.5,449.7 338.0,449.7 338.5,449.7 339.0,449.7 339.5,449.7 340.0,449.7 340.5,449.7 341.0,449.7 341.5,449.7 342.0,449.7 342.5,449.7 343.0,449.7 343.5,449.7 344.0,449.7 344.5,449.7 345.0,449.7 345.5,449.7 346.0,449.7 346.5,449.7 347.0,449.7 347.5,449.7 348.0,449.7 348.5,449.7 349.0,449.7 349.5,449.7 350.1,449.7 350.6,449.7 351.1,449.7 351.6,449.7 352.1,449.7 352.6,449.7 353.1,449.7 353.6,449.7 354.1,449.7 354.6,449.7 355.1,449.7 355.6,449.7 356.1,449.6 356.6,449.6 357.1,449.5 357.6,449.3 358.1,449.1 358.6,448.8 359.1,448.3 359.6,447.8 360.1,447.2 360.6,446.6 361.1,446.1 361.6,445.8 362.1,445.7 362.6,445.5 363.1,443.8 363.6,439.0 364.1,435.0 364.6,438.3 365.1,444.7 365.6,448.2 366.1,449.2 366.6,449.4 367.1,449.6 367.6,449.6 368.1,449.7 368.6,449.7 369.1,449.7 369.6,449.7 370.1,449.7 370.7,449.7 371.2,449.7 371.7,449.7 372.2,449.7 372.7,449.7 373.2,449.7 373.7,449.7 374.2,449.7 374.7,449.7 375.2,449.7 375.7,449.7 376.2,449.7 376.7,449.7 377.2,449.7 377.7,449.7 378.2,449.7 378.7,449.7 379.2,449.7 379.7,449.7 380.2,449.7" fill="none" stroke="#767676" stroke-width="0.75"/>
<rect x="389.1" y="435.3" width="82.3" height="15.4" fill="none" stroke="#4a4a4a" stroke-width="1.3"/>
<line x1="390.1" y1="449.1" x2="470.4" y2="449.1" stroke="#cfcfcf" stroke-width="0.8"/>
<polyline points="390.1,449.4 390.6,449.4 391.1,449.4 391.6,449.4 392.1,449.4 392.6,449.4 393.1,449.4 393.6,449.4 394.1,449.4 394.6,449.4 395.1,449.4 395.6,449.4 396.1,449.4 396.6,449.4 397.1,449.4 397.6,449.4 398.1,449.4 398.6,449.4 399.1,449.4 399.6,449.4 400.1,449.4 400.6,449.4 401.1,449.4 401.6,449.4 402.1,449.4 402.6,449.4 403.1,449.4 403.7,449.4 404.2,449.4 404.7,449.4 405.2,449.4 405.7,449.4 406.2,449.4 406.7,449.4 407.2,449.4 407.7,449.4 408.2,449.4 408.7,449.4 409.2,449.4 409.7,449.4 410.2,449.4 410.7,449.4 411.2,449.4 411.7,449.4 412.2,449.4 412.7,449.4 413.2,449.4 413.7,449.4 414.2,449.4 414.7,449.4 415.2,449.4 415.7,449.4 416.2,449.4 416.7,449.4 417.2,449.4 417.7,449.4 418.2,449.4 418.7,449.4 419.2,449.4 419.7,449.4 420.2,449.4 420.7,449.4 421.2,449.4 421.7,449.4 422.2,449.4 422.7,449.4 423.2,449.4 423.7,449.4 424.2,449.4 424.7,449.4 425.2,449.4 425.7,449.4 426.2,449.4 426.7,449.4 427.2,449.4 427.7,449.4 428.2,449.4 428.7,449.4 429.2,449.4 429.7,449.4 430.2,449.4 430.8,449.4 431.3,449.4 431.8,449.4 432.3,449.4 432.8,449.4 433.3,449.4 433.8,449.4 434.3,449.4 434.8,449.4 435.3,449.3 435.8,448.4 436.3,443.7 436.8,437.3 437.3,440.0 437.8,446.7 438.3,449.1 438.8,449.4 439.3,449.4 439.8,449.4 440.3,449.4 440.8,449.4 441.3,449.4 441.8,449.4 442.3,449.4 442.8,449.4 443.3,449.4 443.8,449.4 444.3,449.4 444.8,449.4 445.3,449.3 445.8,448.8 446.3,447.3 446.8,445.6 447.3,445.9 447.8,447.8 448.3,449.0 448.8,449.4 449.3,449.4 449.8,449.4 450.3,449.4 450.8,449.4 451.3,449.4 451.8,449.4 452.3,449.4 452.8,449.4 453.3,449.4 453.8,449.4 454.3,449.4 454.8,449.4 455.3,449.4 455.8,449.4 456.3,449.2 456.8,448.5 457.4,447.6 457.9,447.6 458.4,448.5 458.9,449.2 459.4,449.4 459.9,449.4 460.4,449.4 460.9,449.4 461.4,449.4 461.9,449.4 462.4,449.4 462.9,449.4 463.4,449.1 463.9,448.5 464.4,447.9 464.9,448.2 465.4,448.9 465.9,449.3 466.4,449.4 466.9,449.4 467.4,449.4 467.9,449.4 468.4,449.4 468.9,449.4 469.4,449.4 469.9,449.4 470.4,449.4" fill="none" stroke="#888" stroke-width="0.75"/>
<rect x="121.8" y="463.6" width="82.8" height="15.0" fill="none" stroke="#4a4a4a" stroke-width="1.3"/>
<line x1="122.8" y1="477.0" x2="203.6" y2="477.0" stroke="#cfcfcf" stroke-width="0.8"/>
<polyline points="122.8,477.3 123.3,477.3 123.8,477.3 124.3,477.3 124.8,477.3 125.3,477.3 125.8,477.3 126.3,477.3 126.8,477.3 127.3,477.3 127.8,477.3 128.3,477.3 128.8,477.3 129.3,477.3 129.8,477.3 130.3,477.3 130.8,477.3 131.3,477.3 131.8,477.3 132.3,477.3 132.8,477.3 133.3,477.3 133.8,477.3 134.3,477.3 134.8,477.3 135.3,477.3 135.8,477.3 136.4,477.3 136.9,477.3 137.4,477.3 137.9,477.3 138.4,477.3 138.9,477.3 139.4,477.3 139.9,477.3 140.4,477.3 140.9,477.3 141.4,477.3 141.9,477.3 142.4,477.3 142.9,477.3 143.4,477.3 143.9,477.3 144.4,477.3 144.9,477.3 145.4,477.3 145.9,477.3 146.4,477.3 146.9,477.3 147.4,477.3 147.9,477.3 148.4,477.3 148.9,477.3 149.4,477.3 149.9,477.3 150.4,477.3 150.9,477.3 151.4,477.3 151.9,477.3 152.4,477.3 152.9,477.3 153.4,477.3 153.9,477.3 154.4,477.3 154.9,477.3 155.4,477.3 155.9,477.3 156.4,477.3 156.9,477.3 157.4,477.3 157.9,477.3 158.4,477.3 158.9,477.3 159.4,477.3 159.9,477.3 160.4,477.3 160.9,477.3 161.4,477.3 161.9,477.3 162.4,477.3 162.9,477.3 163.5,477.3 164.0,477.3 164.5,477.3 165.0,477.3 165.5,477.3 166.0,477.3 166.5,477.3 167.0,477.3 167.5,477.3 168.0,477.3 168.5,477.3 169.0,477.3 169.5,477.3 170.0,477.3 170.5,477.3 171.0,477.3 171.5,477.3 172.0,477.3 172.5,477.3 173.0,477.3 173.5,477.3 174.0,477.3 174.5,477.2 175.0,477.2 175.5,477.2 176.0,477.1 176.5,477.1 177.0,477.0 177.5,477.0 178.0,476.9 178.5,476.8 179.0,476.7 179.5,476.5 180.0,476.4 180.5,476.2 181.0,476.0 181.5,475.8 182.0,475.5 182.5,475.3 183.0,475.0 183.5,474.7 184.0,474.4 184.5,474.1 185.0,473.8 185.5,473.5 186.0,473.2 186.5,473.0 187.0,472.7 187.5,472.6 188.0,472.4 188.5,472.3 189.0,472.3 189.5,472.3 190.0,472.4 190.6,472.5 191.1,472.6 191.6,472.8 192.1,473.1 192.6,473.3 193.1,473.6 193.6,473.9 194.1,474.2 194.6,474.5 195.1,474.8 195.6,475.1 196.1,475.4 196.6,475.6 197.1,475.9 197.6,476.1 198.1,476.3 198.6,476.4 199.1,476.6 199.6,476.7 200.1,476.8 200.6,476.9 201.1,477.0 201.6,477.1 202.1,477.1 202.6,477.2 203.1,477.2 203.6,477.2" fill="none" stroke="#767676" stroke-width="0.75"/>
<rect x="211.4" y="463.6" width="83.2" height="15.0" fill="none" stroke="#4a4a4a" stroke-width="1.3"/>
<line x1="212.4" y1="477.0" x2="293.6" y2="477.0" stroke="#cfcfcf" stroke-width="0.8"/>
<rect x="298.8" y="463.6" width="82.4" height="15.0" fill="none" stroke="#4a4a4a" stroke-width="1.3"/>
<line x1="299.8" y1="477.0" x2="380.2" y2="477.0" stroke="#cfcfcf" stroke-width="0.8"/>
<polyline points="299.8,477.3 300.3,477.3 300.8,477.3 301.3,477.3 301.8,477.3 302.3,477.3 302.8,477.3 303.3,477.3 303.8,477.3 304.3,477.3 304.8,477.3 305.3,477.3 305.8,477.3 306.3,477.3 306.8,477.3 307.3,477.3 307.8,477.3 308.3,477.3 308.8,477.3 309.3,477.3 309.9,477.3 310.4,477.3 310.9,477.3 311.4,477.3 311.9,477.3 312.4,477.3 312.9,477.3 313.4,477.3 313.9,477.3 314.4,477.3 314.9,477.3 315.4,477.3 315.9,477.3 316.4,477.3 316.9,477.3 317.4,477.3 317.9,477.3 318.4,477.3 318.9,477.3 319.4,477.3 319.9,477.3 320.4,477.3 320.9,477.3 321.4,477.3 321.9,477.3 322.4,477.3 322.9,477.3 323.4,477.3 323.9,477.3 324.4,477.3 324.9,477.3 325.4,477.3 325.9,477.3 326.4,477.3 326.9,477.3 327.4,477.3 327.9,477.3 328.4,477.3 328.9,477.3 329.4,477.3 329.9,477.3 330.5,477.3 331.0,477.3 331.5,477.3 332.0,477.3 332.5,477.3 333.0,477.3 333.5,477.3 334.0,477.3 334.5,477.3 335.0,477.3 335.5,477.3 336.0,477.3 336.5,477.3 337.0,477.3 337.5,477.3 338.0,477.3 338.5,477.3 339.0,477.3 339.5,477.3 340.0,477.3 340.5,477.3 341.0,477.3 341.5,477.3 342.0,477.3 342.5,477.3 343.0,477.3 343.5,477.3 344.0,477.3 344.5,477.3 345.0,477.3 345.5,477.3 346.0,477.3 346.5,477.3 347.0,477.3 347.5,477.2 348.0,477.2 348.5,477.2 349.0,477.2 349.5,477.2 350.1,477.1 350.6,477.1 351.1,477.0 351.6,476.9 352.1,476.9 352.6,476.8 353.1,476.7 353.6,476.5 354.1,476.4 354.6,476.2 355.1,476.0 355.6,475.8 356.1,475.6 356.6,475.4 357.1,475.1 357.6,474.9 358.1,474.6 358.6,474.3 359.1,474.0 359.6,473.8 360.1,473.5 360.6,473.3 361.1,473.0 361.6,472.8 362.1,472.6 362.6,472.5 363.1,472.4 363.6,472.3 364.1,472.3 364.6,472.3 365.1,472.4 365.6,472.5 366.1,472.6 366.6,472.8 367.1,473.0 367.6,473.2 368.1,473.4 368.6,473.7 369.1,474.0 369.6,474.2 370.1,474.5 370.7,474.8 371.2,475.1 371.7,475.3 372.2,475.5 372.7,475.8 373.2,476.0 373.7,476.2 374.2,476.3 374.7,476.5 375.2,476.6 375.7,476.7 376.2,476.8 376.7,476.9 377.2,477.0 377.7,477.1 378.2,477.1 378.7,477.1 379.2,477.2 379.7,477.2 380.2,477.2" fill="none" stroke="#767676" stroke-width="0.75"/>
<rect x="389.1" y="463.4" width="82.3" height="15.0" fill="none" stroke="#4a4a4a" stroke-width="1.3"/>
<line x1="390.1" y1="476.8" x2="470.4" y2="476.8" stroke="#cfcfcf" stroke-width="0.8"/>
<polyline points="390.1,477.1 390.6,477.1 391.1,477.1 391.6,477.1 392.1,477.1 392.6,477.1 393.1,477.1 393.6,477.1 394.1,477.1 394.6,477.1 395.1,477.1 395.6,477.1 396.1,477.1 396.6,477.1 397.1,477.1 397.6,477.1 398.1,477.1 398.6,477.1 399.1,477.1 399.6,477.1 400.1,477.1 400.6,477.1 401.1,477.1 401.6,477.1 402.1,477.1 402.6,477.1 403.1,477.1 403.7,477.1 404.2,477.1 404.7,477.1 405.2,477.1 405.7,477.1 406.2,477.1 406.7,477.1 407.2,477.1 407.7,477.1 408.2,477.1 408.7,477.1 409.2,477.1 409.7,477.1 410.2,477.1 410.7,477.1 411.2,477.1 411.7,477.1 412.2,477.1 412.7,477.1 413.2,477.1 413.7,477.1 414.2,477.1 414.7,477.1 415.2,477.1 415.7,477.1 416.2,477.1 416.7,477.1 417.2,477.1 417.7,477.1 418.2,477.1 418.7,477.1 419.2,477.1 419.7,477.1 420.2,477.1 420.7,477.1 421.2,477.1 421.7,477.1 422.2,477.1 422.7,477.1 423.2,477.1 423.7,477.1 424.2,477.1 424.7,477.1 425.2,477.1 425.7,477.1 426.2,477.1 426.7,477.1 427.2,477.1 427.7,477.1 428.2,477.1 428.7,477.1 429.2,477.1 429.7,477.1 430.2,477.1 430.8,477.1 431.3,477.1 431.8,477.1 432.3,477.1 432.8,477.1 433.3,477.1 433.8,477.1 434.3,477.0 434.8,477.0 435.3,477.0 435.8,477.0 436.3,477.0 436.8,476.9 437.3,476.9 437.8,476.8 438.3,476.8 438.8,476.7 439.3,476.6 439.8,476.6 440.3,476.4 440.8,476.3 441.3,476.2 441.8,476.1 442.3,475.9 442.8,475.7 443.3,475.5 443.8,475.3 444.3,475.1 444.8,474.9 445.3,474.6 445.8,474.4 446.3,474.1 446.8,473.9 447.3,473.6 447.8,473.4 448.3,473.1 448.8,472.9 449.3,472.7 449.8,472.5 450.3,472.4 450.8,472.3 451.3,472.2 451.8,472.1 452.3,472.1 452.8,472.1 453.3,472.2 453.8,472.2 454.3,472.4 454.8,472.5 455.3,472.7 455.8,472.9 456.3,473.1 456.8,473.3 457.4,473.5 457.9,473.8 458.4,474.0 458.9,474.3 459.4,474.5 459.9,474.8 460.4,475.0 460.9,475.3 461.4,475.5 461.9,475.7 462.4,475.8 462.9,476.0 463.4,476.2 463.9,476.3 464.4,476.4 464.9,476.5 465.4,476.6 465.9,476.7 466.4,476.8 466.9,476.8 467.4,476.9 467.9,476.9 468.4,477.0 468.9,477.0 469.4,477.0 469.9,477.0 470.4,477.0" fill="none" stroke="#767676" stroke-width="0.75"/>
<rect x="121.8" y="483.0" width="82.8" height="15.4" fill="none" stroke="#4a4a4a" stroke-width="1.3"/>
<line x1="122.8" y1="496.8" x2="203.6" y2="496.8" stroke="#cfcfcf" stroke-width="0.8"/>
<polyline points="122.8,497.1 123.3,497.1 123.8,497.1 124.3,497.1 124.8,497.1 125.3,497.1 125.8,497.1 126.3,497.1 126.8,497.1 127.3,497.1 127.8,497.1 128.3,497.1 128.8,497.1 129.3,497.1 129.8,497.1 130.3,497.1 130.8,497.1 131.3,497.1 131.8,497.1 132.3,497.1 132.8,497.1 133.3,497.1 133.8,497.1 134.3,497.1 134.8,497.1 135.3,497.1 135.8,497.1 136.4,497.1 136.9,497.1 137.4,497.1 137.9,497.1 138.4,497.1 138.9,497.1 139.4,497.1 139.9,497.1 140.4,497.1 140.9,497.1 141.4,497.1 141.9,497.1 142.4,497.1 142.9,497.1 143.4,497.1 143.9,497.1 144.4,497.1 144.9,497.1 145.4,497.1 145.9,497.1 146.4,497.1 146.9,497.1 147.4,497.1 147.9,497.1 148.4,497.1 148.9,497.1 149.4,497.1 149.9,497.1 150.4,497.1 150.9,497.1 151.4,497.1 151.9,497.1 152.4,497.1 152.9,497.1 153.4,497.1 153.9,497.1 154.4,497.1 154.9,497.1 155.4,497.1 155.9,497.1 156.4,497.1 156.9,497.1 157.4,497.1 157.9,497.1 158.4,497.1 158.9,497.1 159.4,497.1 159.9,497.1 160.4,497.1 160.9,497.1 161.4,497.1 161.9,497.1 162.4,497.1 162.9,497.1 163.5,497.1 164.0,497.1 164.5,497.1 165.0,497.1 165.5,497.1 166.0,497.1 166.5,497.1 167.0,497.1 167.5,497.1 168.0,497.1 168.5,497.1 169.0,497.1 169.5,497.1 170.0,497.1 170.5,497.1 171.0,497.0 171.5,497.0 172.0,497.0 172.5,497.0 173.0,496.9 173.5,496.9 174.0,496.8 174.5,496.7 175.0,496.6 175.5,496.5 176.0,496.4 176.5,496.3 177.0,496.1 177.5,495.9 178.0,495.7 178.5,495.5 179.0,495.3 179.5,495.0 180.0,494.7 180.5,494.5 181.0,494.2 181.5,493.9 182.0,493.7 182.5,493.4 183.0,493.2 183.5,493.0 184.0,492.8 184.5,492.7 185.0,492.6 185.5,492.6 186.0,492.6 186.5,492.7 187.0,492.8 187.5,492.9 188.0,493.1 188.5,493.3 189.0,493.5 189.5,493.8 190.0,494.0 190.6,494.3 191.1,494.6 191.6,494.8 192.1,495.1 192.6,495.3 193.1,495.6 193.6,495.8 194.1,496.0 194.6,496.2 195.1,496.3 195.6,496.5 196.1,496.6 196.6,496.7 197.1,496.8 197.6,496.8 198.1,496.9 198.6,496.9 199.1,497.0 199.6,497.0 200.1,497.0 200.6,497.0 201.1,497.1 201.6,497.1 202.1,497.1 202.6,497.1 203.1,497.1 203.6,497.1" fill="none" stroke="#767676" stroke-width="0.75"/>
<rect x="211.4" y="483.0" width="83.2" height="15.4" fill="none" stroke="#4a4a4a" stroke-width="1.3"/>
<line x1="212.4" y1="496.8" x2="293.6" y2="496.8" stroke="#cfcfcf" stroke-width="0.8"/>
<polyline points="212.4,497.1 212.9,497.1 213.4,497.1 213.9,497.1 214.4,497.1 214.9,497.1 215.4,497.1 215.9,497.1 216.4,497.1 216.9,497.1 217.4,497.1 217.9,497.1 218.4,497.1 218.9,497.1 219.4,497.1 219.9,497.1 220.4,497.1 220.9,497.1 221.4,497.1 221.9,497.1 222.4,497.1 222.9,497.1 223.4,497.1 223.9,497.1 224.4,497.1 224.9,497.1 225.4,497.1 225.9,497.1 226.4,497.1 226.9,497.1 227.4,497.1 227.9,497.1 228.4,497.1 228.9,497.1 229.4,497.1 229.9,497.1 230.4,497.1 230.9,497.1 231.4,497.1 231.9,497.1 232.4,497.1 233.0,497.1 233.5,497.1 234.0,497.1 234.5,497.1 235.0,497.1 235.5,497.1 236.0,497.1 236.5,497.1 237.0,497.1 237.5,497.1 238.0,497.1 238.5,497.1 239.0,497.1 239.5,497.1 240.0,497.1 240.5,497.1 241.0,497.1 241.5,497.1 242.0,497.1 242.5,497.1 243.0,497.1 243.5,497.1 244.0,497.1 244.5,497.1 245.0,497.1 245.5,497.1 246.0,497.1 246.5,497.1 247.0,497.1 247.5,497.1 248.0,497.1 248.5,497.1 249.0,497.1 249.5,497.1 250.0,497.1 250.5,497.1 251.0,497.1 251.5,497.1 252.0,497.1 252.5,497.1 253.0,497.1 253.5,497.1 254.0,497.1 254.5,497.1 255.0,497.1 255.5,497.1 256.0,497.0 256.5,497.0 257.0,497.0 257.5,497.0 258.0,497.0 258.5,496.9 259.0,496.9 259.5,496.8 260.0,496.8 260.5,496.7 261.0,496.6 261.5,496.5 262.0,496.4 262.5,496.3 263.0,496.2 263.5,496.0 264.0,495.9 264.5,495.7 265.0,495.5 265.5,495.3 266.0,495.2 266.5,495.0 267.0,494.8 267.5,494.6 268.0,494.4 268.5,494.2 269.0,494.1 269.5,493.9 270.0,493.8 270.5,493.7 271.0,493.7 271.5,493.6 272.0,493.6 272.5,493.6 273.0,493.7 273.6,493.7 274.1,493.8 274.6,494.0 275.1,494.1 275.6,494.3 276.1,494.4 276.6,494.6 277.1,494.8 277.6,495.0 278.1,495.2 278.6,495.4 279.1,495.6 279.6,495.7 280.1,495.9 280.6,496.1 281.1,496.2 281.6,496.3 282.1,496.4 282.6,496.5 283.1,496.6 283.6,496.7 284.1,496.8 284.6,496.8 285.1,496.9 285.6,496.9 286.1,497.0 286.6,497.0 287.1,497.0 287.6,497.0 288.1,497.1 288.6,497.1 289.1,497.1 289.6,497.1 290.1,497.1 290.6,497.1 291.1,497.1 291.6,497.1 292.1,497.1 292.6,497.1 293.1,497.1 293.6,497.1" fill="none" stroke="#767676" stroke-width="0.75"/>
<rect x="298.8" y="483.0" width="82.4" height="15.4" fill="none" stroke="#4a4a4a" stroke-width="1.3"/>
<line x1="299.8" y1="496.8" x2="380.2" y2="496.8" stroke="#cfcfcf" stroke-width="0.8"/>
<polyline points="299.8,497.1 300.3,497.1 300.8,497.1 301.3,497.1 301.8,497.1 302.3,497.1 302.8,497.1 303.3,497.1 303.8,497.1 304.3,497.1 304.8,497.1 305.3,497.1 305.8,497.1 306.3,497.1 306.8,497.1 307.3,497.1 307.8,497.1 308.3,497.1 308.8,497.1 309.3,497.1 309.9,497.1 310.4,497.1 310.9,497.1 311.4,497.1 311.9,497.1 312.4,497.1 312.9,497.1 313.4,497.1 313.9,497.1 314.4,497.1 314.9,497.1 315.4,497.1 315.9,497.1 316.4,497.1 316.9,497.1 317.4,497.1 317.9,497.1 318.4,497.1 318.9,497.1 319.4,497.1 319.9,497.1 320.4,497.1 320.9,497.1 321.4,497.1 321.9,497.1 322.4,497.1 322.9,497.1 323.4,497.1 323.9,497.1 324.4,497.1 324.9,497.1 325.4,497.1 325.9,497.1 326.4,497.1 326.9,497.1 327.4,497.1 327.9,497.1 328.4,497.1 328.9,497.1 329.4,497.1 329.9,497.1 330.5,497.1 331.0,497.1 331.5,497.1 332.0,497.1 332.5,497.1 333.0,497.1 333.5,497.1 334.0,497.1 334.5,497.1 335.0,497.1 335.5,497.1 336.0,497.1 336.5,497.1 337.0,497.1 337.5,497.1 338.0,497.1 338.5,497.1 339.0,497.1 339.5,497.1 340.0,497.1 340.5,497.1 341.0,497.1 341.5,497.1 342.0,497.1 342.5,497.1 343.0,497.0 343.5,497.0 344.0,497.0 344.5,497.0 345.0,497.0 345.5,496.9 346.0,496.9 346.5,496.8 347.0,496.7 347.5,496.6 348.0,496.5 348.5,496.4 349.0,496.3 349.5,496.1 350.1,495.9 350.6,495.7 351.1,495.5 351.6,495.3 352.1,495.0 352.6,494.7 353.1,494.4 353.6,494.1 354.1,493.7 354.6,493.4 355.1,493.1 355.6,492.8 356.1,492.4 356.6,492.2 357.1,491.9 357.6,491.7 358.1,491.5 358.6,491.3 359.1,491.2 359.6,491.1 360.1,491.1 360.6,491.1 361.1,491.2 361.6,491.4 362.1,491.5 362.6,491.7 363.1,492.0 363.6,492.3 364.1,492.6 364.6,492.9 365.1,493.2 365.6,493.5 366.1,493.9 366.6,494.2 367.1,494.5 367.6,494.8 368.1,495.1 368.6,495.4 369.1,495.6 369.6,495.8 370.1,496.0 370.7,496.2 371.2,496.3 371.7,496.5 372.2,496.6 372.7,496.7 373.2,496.8 373.7,496.8 374.2,496.9 374.7,496.9 375.2,497.0 375.7,497.0 376.2,497.0 376.7,497.0 377.2,497.1 377.7,497.1 378.2,497.1 378.7,497.1 379.2,497.1 379.7,497.1 380.2,497.1" fill="none" stroke="#767676" stroke-width="0.75"/>
<rect x="389.1" y="483.0" width="82.3" height="15.4" fill="none" stroke="#4a4a4a" stroke-width="1.3"/>
<line x1="390.1" y1="496.8" x2="470.4" y2="496.8" stroke="#cfcfcf" stroke-width="0.8"/>
<polyline points="390.1,497.1 390.6,497.1 391.1,497.1 391.6,497.1 392.1,497.1 392.6,497.1 393.1,497.1 393.6,497.1 394.1,497.1 394.6,497.1 395.1,497.1 395.6,497.1 396.1,497.1 396.6,497.1 397.1,497.1 397.6,497.1 398.1,497.1 398.6,497.1 399.1,497.1 399.6,497.1 400.1,497.1 400.6,497.1 401.1,497.1 401.6,497.1 402.1,497.1 402.6,497.1 403.1,497.1 403.7,497.1 404.2,497.1 404.7,497.1 405.2,497.1 405.7,497.1 406.2,497.1 406.7,497.1 407.2,497.1 407.7,497.1 408.2,497.1 408.7,497.1 409.2,497.1 409.7,497.1 410.2,497.1 410.7,497.1 411.2,497.1 411.7,497.1 412.2,497.1 412.7,497.1 413.2,497.1 413.7,497.1 414.2,497.1 414.7,497.1 415.2,497.1 415.7,497.1 416.2,497.1 416.7,497.1 417.2,497.1 417.7,497.1 418.2,497.1 418.7,497.1 419.2,497.1 419.7,497.1 420.2,497.1 420.7,497.1 421.2,497.1 421.7,497.1 422.2,497.1 422.7,497.1 423.2,497.1 423.7,497.1 424.2,497.1 424.7,497.1 425.2,497.1 425.7,497.1 426.2,497.1 426.7,497.1 427.2,497.1 427.7,497.1 428.2,497.1 428.7,497.1 429.2,497.1 429.7,497.1 430.2,497.1 430.8,497.1 431.3,497.1 431.8,497.1 432.3,497.1 432.8,497.1 433.3,497.1 433.8,497.1 434.3,497.0 434.8,497.0 435.3,497.0 435.8,496.9 436.3,496.9 436.8,496.8 437.3,496.8 437.8,496.7 438.3,496.6 438.8,496.4 439.3,496.3 439.8,496.1 440.3,495.9 440.8,495.7 441.3,495.5 441.8,495.3 442.3,495.1 442.8,494.8 443.3,494.6 443.8,494.4 444.3,494.2 444.8,494.0 445.3,493.8 445.8,493.7 446.3,493.6 446.8,493.6 447.3,493.6 447.8,493.7 448.3,493.7 448.8,493.9 449.3,494.0 449.8,494.2 450.3,494.4 450.8,494.7 451.3,494.9 451.8,495.1 452.3,495.4 452.8,495.6 453.3,495.8 453.8,496.0 454.3,496.2 454.8,496.3 455.3,496.5 455.8,496.6 456.3,496.7 456.8,496.8 457.4,496.9 457.9,496.9 458.4,497.0 458.9,497.0 459.4,497.0 459.9,497.0 460.4,497.1 460.9,497.1 461.4,497.1 461.9,497.1 462.4,497.1 462.9,497.1 463.4,497.1 463.9,497.1 464.4,497.1 464.9,497.1 465.4,497.1 465.9,497.1 466.4,497.1 466.9,497.1 467.4,497.1 467.9,497.1 468.4,497.1 468.9,497.1 469.4,497.1 469.9,497.1 470.4,497.1" fill="none" stroke="#767676" stroke-width="0.75"/>
<line x1="126.6" y1="348.1" x2="139.0" y2="348.1" stroke="#3c3c3c" stroke-width="2.4"/>
<path d="M123.6,348.1 L128.6,345.5 L128.6,350.7 Z" fill="#000"/>
<path d="M142.0,348.1 L137.0,345.5 L137.0,350.7 Z" fill="#000"/>
<line x1="146.8" y1="348.1" x2="159.2" y2="348.1" stroke="#3c3c3c" stroke-width="2.4"/>
<path d="M143.8,348.1 L148.8,345.5 L148.8,350.7 Z" fill="#000"/>
<path d="M162.2,348.1 L157.2,345.5 L157.2,350.7 Z" fill="#000"/>
<line x1="167.1" y1="348.1" x2="179.5" y2="348.1" stroke="#3c3c3c" stroke-width="2.4"/>
<path d="M164.1,348.1 L169.1,345.5 L169.1,350.7 Z" fill="#000"/>
<path d="M182.5,348.1 L177.5,345.5 L177.5,350.7 Z" fill="#000"/>
<line x1="187.3" y1="348.1" x2="199.8" y2="348.1" stroke="#3c3c3c" stroke-width="2.4"/>
<path d="M184.3,348.1 L189.3,345.5 L189.3,350.7 Z" fill="#000"/>
<path d="M202.8,348.1 L197.8,345.5 L197.8,350.7 Z" fill="#000"/>
<line x1="126.6" y1="433.6" x2="139.0" y2="433.6" stroke="#3c3c3c" stroke-width="2.4"/>
<path d="M123.6,433.6 L128.6,431.0 L128.6,436.2 Z" fill="#000"/>
<path d="M142.0,433.6 L137.0,431.0 L137.0,436.2 Z" fill="#000"/>
<line x1="146.8" y1="433.6" x2="159.2" y2="433.6" stroke="#3c3c3c" stroke-width="2.4"/>
<path d="M143.8,433.6 L148.8,431.0 L148.8,436.2 Z" fill="#000"/>
<path d="M162.2,433.6 L157.2,431.0 L157.2,436.2 Z" fill="#000"/>
<line x1="167.1" y1="433.6" x2="179.5" y2="433.6" stroke="#3c3c3c" stroke-width="2.4"/>
<path d="M164.1,433.6 L169.1,431.0 L169.1,436.2 Z" fill="#000"/>
<path d="M182.5,433.6 L177.5,431.0 L177.5,436.2 Z" fill="#000"/>
<line x1="187.3" y1="433.6" x2="199.8" y2="433.6" stroke="#3c3c3c" stroke-width="2.4"/>
<path d="M184.3,433.6 L189.3,431.0 L189.3,436.2 Z" fill="#000"/>
<path d="M202.8,433.6 L197.8,431.0 L197.8,436.2 Z" fill="#000"/>
<line x1="216.2" y1="347.8" x2="228.6" y2="347.8" stroke="#3c3c3c" stroke-width="2.4"/>
<path d="M213.2,347.8 L218.2,345.2 L218.2,350.4 Z" fill="#000"/>
<path d="M231.6,347.8 L226.6,345.2 L226.6,350.4 Z" fill="#000"/>
<line x1="236.5" y1="347.8" x2="248.9" y2="347.8" stroke="#3c3c3c" stroke-width="2.4"/>
<path d="M233.5,347.8 L238.5,345.2 L238.5,350.4 Z" fill="#000"/>
<path d="M251.9,347.8 L246.9,345.2 L246.9,350.4 Z" fill="#000"/>
<line x1="256.7" y1="347.8" x2="269.1" y2="347.8" stroke="#3c3c3c" stroke-width="2.4"/>
<path d="M253.7,347.8 L258.7,345.2 L258.7,350.4 Z" fill="#000"/>
<path d="M272.1,347.8 L267.1,345.2 L267.1,350.4 Z" fill="#000"/>
<line x1="277.0" y1="347.8" x2="289.4" y2="347.8" stroke="#3c3c3c" stroke-width="2.4"/>
<path d="M274.0,347.8 L279.0,345.2 L279.0,350.4 Z" fill="#000"/>
<path d="M292.4,347.8 L287.4,345.2 L287.4,350.4 Z" fill="#000"/>
<line x1="216.2" y1="433.6" x2="228.6" y2="433.6" stroke="#3c3c3c" stroke-width="2.4"/>
<path d="M213.2,433.6 L218.2,431.0 L218.2,436.2 Z" fill="#000"/>
<path d="M231.6,433.6 L226.6,431.0 L226.6,436.2 Z" fill="#000"/>
<line x1="236.5" y1="433.6" x2="248.9" y2="433.6" stroke="#3c3c3c" stroke-width="2.4"/>
<path d="M233.5,433.6 L238.5,431.0 L238.5,436.2 Z" fill="#000"/>
<path d="M251.9,433.6 L246.9,431.0 L246.9,436.2 Z" fill="#000"/>
<line x1="256.7" y1="433.6" x2="269.1" y2="433.6" stroke="#3c3c3c" stroke-width="2.4"/>
<path d="M253.7,433.6 L258.7,431.0 L258.7,436.2 Z" fill="#000"/>
<path d="M272.1,433.6 L267.1,431.0 L267.1,436.2 Z" fill="#000"/>
<line x1="277.0" y1="433.6" x2="289.4" y2="433.6" stroke="#3c3c3c" stroke-width="2.4"/>
<path d="M274.0,433.6 L279.0,431.0 L279.0,436.2 Z" fill="#000"/>
<path d="M292.4,433.6 L287.4,431.0 L287.4,436.2 Z" fill="#000"/>
<line x1="303.6" y1="347.5" x2="316.0" y2="347.5" stroke="#3c3c3c" stroke-width="2.4"/>
<path d="M300.6,347.5 L305.6,344.9 L305.6,350.1 Z" fill="#000"/>
<path d="M319.0,347.5 L314.0,344.9 L314.0,350.1 Z" fill="#000"/>
<line x1="323.9" y1="347.5" x2="336.2" y2="347.5" stroke="#3c3c3c" stroke-width="2.4"/>
<path d="M320.9,347.5 L325.9,344.9 L325.9,350.1 Z" fill="#000"/>
<path d="M339.2,347.5 L334.2,344.9 L334.2,350.1 Z" fill="#000"/>
<line x1="344.1" y1="347.5" x2="356.5" y2="347.5" stroke="#3c3c3c" stroke-width="2.4"/>
<path d="M341.1,347.5 L346.1,344.9 L346.1,350.1 Z" fill="#000"/>
<path d="M359.5,347.5 L354.5,344.9 L354.5,350.1 Z" fill="#000"/>
<line x1="364.4" y1="347.5" x2="376.8" y2="347.5" stroke="#3c3c3c" stroke-width="2.4"/>
<path d="M361.4,347.5 L366.4,344.9 L366.4,350.1 Z" fill="#000"/>
<path d="M379.8,347.5 L374.8,344.9 L374.8,350.1 Z" fill="#000"/>
<line x1="303.6" y1="433.6" x2="316.0" y2="433.6" stroke="#3c3c3c" stroke-width="2.4"/>
<path d="M300.6,433.6 L305.6,431.0 L305.6,436.2 Z" fill="#000"/>
<path d="M319.0,433.6 L314.0,431.0 L314.0,436.2 Z" fill="#000"/>
<line x1="323.9" y1="433.6" x2="336.2" y2="433.6" stroke="#3c3c3c" stroke-width="2.4"/>
<path d="M320.9,433.6 L325.9,431.0 L325.9,436.2 Z" fill="#000"/>
<path d="M339.2,433.6 L334.2,431.0 L334.2,436.2 Z" fill="#000"/>
<line x1="344.1" y1="433.6" x2="356.5" y2="433.6" stroke="#3c3c3c" stroke-width="2.4"/>
<path d="M341.1,433.6 L346.1,431.0 L346.1,436.2 Z" fill="#000"/>
<path d="M359.5,433.6 L354.5,431.0 L354.5,436.2 Z" fill="#000"/>
<line x1="364.4" y1="433.6" x2="376.8" y2="433.6" stroke="#3c3c3c" stroke-width="2.4"/>
<path d="M361.4,433.6 L366.4,431.0 L366.4,436.2 Z" fill="#000"/>
<path d="M379.8,433.6 L374.8,431.0 L374.8,436.2 Z" fill="#000"/>
<line x1="393.9" y1="346.7" x2="406.3" y2="346.7" stroke="#3c3c3c" stroke-width="2.4"/>
<path d="M390.9,346.7 L395.9,344.1 L395.9,349.3 Z" fill="#000"/>
<path d="M409.3,346.7 L404.3,344.1 L404.3,349.3 Z" fill="#000"/>
<line x1="414.2" y1="346.7" x2="426.6" y2="346.7" stroke="#3c3c3c" stroke-width="2.4"/>
<path d="M411.2,346.7 L416.2,344.1 L416.2,349.3 Z" fill="#000"/>
<path d="M429.6,346.7 L424.6,344.1 L424.6,349.3 Z" fill="#000"/>
<line x1="434.4" y1="346.7" x2="446.8" y2="346.7" stroke="#3c3c3c" stroke-width="2.4"/>
<path d="M431.4,346.7 L436.4,344.1 L436.4,349.3 Z" fill="#000"/>
<path d="M449.8,346.7 L444.8,344.1 L444.8,349.3 Z" fill="#000"/>
<line x1="454.7" y1="346.7" x2="467.1" y2="346.7" stroke="#3c3c3c" stroke-width="2.4"/>
<path d="M451.7,346.7 L456.7,344.1 L456.7,349.3 Z" fill="#000"/>
<path d="M470.1,346.7 L465.1,344.1 L465.1,349.3 Z" fill="#000"/>
<line x1="393.9" y1="433.3" x2="406.3" y2="433.3" stroke="#3c3c3c" stroke-width="2.4"/>
<path d="M390.9,433.3 L395.9,430.7 L395.9,435.9 Z" fill="#000"/>
<path d="M409.3,433.3 L404.3,430.7 L404.3,435.9 Z" fill="#000"/>
<line x1="414.2" y1="433.3" x2="426.6" y2="433.3" stroke="#3c3c3c" stroke-width="2.4"/>
<path d="M411.2,433.3 L416.2,430.7 L416.2,435.9 Z" fill="#000"/>
<path d="M429.6,433.3 L424.6,430.7 L424.6,435.9 Z" fill="#000"/>
<line x1="434.4" y1="433.3" x2="446.8" y2="433.3" stroke="#3c3c3c" stroke-width="2.4"/>
<path d="M431.4,433.3 L436.4,430.7 L436.4,435.9 Z" fill="#000"/>
<path d="M449.8,433.3 L444.8,430.7 L444.8,435.9 Z" fill="#000"/>
<line x1="454.7" y1="433.3" x2="467.1" y2="433.3" stroke="#3c3c3c" stroke-width="2.4"/>
<path d="M451.7,433.3 L456.7,430.7 L456.7,435.9 Z" fill="#000"/>
<path d="M470.1,433.3 L465.1,430.7 L465.1,435.9 Z" fill="#000"/>
<text x="249.0" y="476.2" font-size="7.4" font-weight="bold" textLength="12.9" lengthAdjust="spacingAndGlyphs" fill="#000">N/A</text>
<text x="148.1" y="338.5" font-size="10.2" font-weight="bold" textLength="13.6" lengthAdjust="spacingAndGlyphs" fill="#000">no.</text>
<text x="166.9" y="338.5" font-size="10.6" font-weight="bold" fill="#000">6</text>
<text x="238.8" y="338.3" font-size="10.2" font-weight="bold" textLength="13.6" lengthAdjust="spacingAndGlyphs" fill="#000">no.</text>
<text x="255.5" y="338.3" font-size="10.6" font-weight="bold" fill="#000">7</text>
<text x="325.8" y="336.9" font-size="10.2" font-weight="bold" textLength="13.6" lengthAdjust="spacingAndGlyphs" fill="#000">no.</text>
<text x="342.3" y="336.9" font-size="10.6" font-weight="bold" fill="#000">8</text>
<text x="414.1" y="336.9" font-size="10.2" font-weight="bold" textLength="13.6" lengthAdjust="spacingAndGlyphs" fill="#000">no.</text>
<text x="431.5" y="336.9" font-size="10.6" font-weight="bold" fill="#000">9</text>
<text x="2.4" y="339.1" font-size="11" font-weight="bold" fill="#000">B</text>
<text x="112.0" y="360.6" font-size="8.1" font-weight="bold" text-anchor="end" textLength="39.5" lengthAdjust="spacingAndGlyphs" fill="#000">Donor GMT</text>
<text x="112.3" y="390.1" font-size="8.1" font-weight="bold" text-anchor="end" textLength="21.2" lengthAdjust="spacingAndGlyphs" fill="#000">PBMC</text>
<text x="112.3" y="409.2" font-size="8.1" font-weight="bold" text-anchor="end" textLength="75.8" lengthAdjust="spacingAndGlyphs" fill="#000">G418-reselected GMT</text>
<text x="112.0" y="446.0" font-size="8.1" font-weight="bold" text-anchor="end" textLength="39.5" lengthAdjust="spacingAndGlyphs" fill="#000">Donor GMT</text>
<text x="112.3" y="475.2" font-size="8.1" font-weight="bold" text-anchor="end" textLength="21.2" lengthAdjust="spacingAndGlyphs" fill="#000">PBMC</text>
<text x="112.3" y="493.8" font-size="8.1" font-weight="bold" text-anchor="end" textLength="75.8" lengthAdjust="spacingAndGlyphs" fill="#000">G418-reselected GMT</text>
<text transform="translate(8.6,406.6) rotate(-90)" font-size="7.8" font-weight="bold" textLength="48.6" lengthAdjust="spacingAndGlyphs">PCR A - TCRg</text>
<text transform="translate(6.8,490.6) rotate(-90)" font-size="7.8" font-weight="bold" textLength="49.4" lengthAdjust="spacingAndGlyphs">PCR B - TCRg</text>
<rect x="477" y="347.0" width="2.1" height="16.6" fill="#000"/>
<rect x="477" y="375.8" width="2.1" height="33.5" fill="#000"/>
<rect x="477" y="436.0" width="2.1" height="16.7" fill="#000"/>
<rect x="477" y="465.4" width="2.1" height="33.0" fill="#000"/>
<text x="482.5" y="357.9" font-size="7.6" font-weight="bold" textLength="35.6" lengthAdjust="spacingAndGlyphs" fill="#000">Before BMT</text>
<text x="482.8" y="396.0" font-size="7.6" font-weight="bold" textLength="30.8" lengthAdjust="spacingAndGlyphs" fill="#000">After BMT</text>
<text x="482.5" y="446.7" font-size="7.6" font-weight="bold" textLength="35.6" lengthAdjust="spacingAndGlyphs" fill="#000">Before BMT</text>
<text x="483.1" y="484.8" font-size="7.6" font-weight="bold" textLength="30.5" lengthAdjust="spacingAndGlyphs" fill="#000">After BMT</text>
<text x="129.5" y="511.3" font-size="7" font-weight="normal" textLength="70.5" lengthAdjust="spacingAndGlyphs" font-style="italic" fill="#000">+70 months after BMT</text>
<text x="220.3" y="511.3" font-size="7" font-weight="normal" textLength="68.6" lengthAdjust="spacingAndGlyphs" font-style="italic" fill="#000">+60 months after BMT</text>
<text x="310.4" y="511.3" font-size="7" font-weight="normal" textLength="68.5" lengthAdjust="spacingAndGlyphs" font-style="italic" fill="#000">+67 months after BMT</text>
<text x="401.4" y="511.3" font-size="7" font-weight="normal" textLength="68.8" lengthAdjust="spacingAndGlyphs" font-style="italic" fill="#000">+48 months after BMT</text>
<text x="215.5" y="545.0" font-size="7.8" font-weight="bold" textLength="48.5" lengthAdjust="spacingAndGlyphs" fill="#000">PCR A - TCRg</text>
<text x="350.8" y="546.4" font-size="7.8" font-weight="bold" textLength="48.5" lengthAdjust="spacingAndGlyphs" fill="#000">PCR B - TCRg</text>
<text x="123.1" y="567.7" font-size="7.8" font-weight="bold" textLength="63.7" lengthAdjust="spacingAndGlyphs" fill="#000">Polyclonal control</text>
<text x="119.7" y="586.0" font-size="7.8" font-weight="bold" textLength="69.2" lengthAdjust="spacingAndGlyphs" fill="#000">Monoclonal control</text>
<rect x="196.3" y="557.3" width="83.1" height="15.2" fill="none" stroke="#4a4a4a" stroke-width="1.3"/>
<line x1="197.3" y1="570.9" x2="278.4" y2="570.9" stroke="#cfcfcf" stroke-width="0.8"/>
<polyline points="197.3,571.2 197.8,571.2 198.3,571.2 198.8,571.1 199.3,571.1 199.8,571.1 200.3,571.0 200.8,570.9 201.3,570.8 201.8,570.7 202.3,570.5 202.8,570.3 203.3,570.0 203.8,569.7 204.3,569.3 204.8,568.9 205.3,568.5 205.8,568.1 206.3,567.6 206.8,567.2 207.3,566.9 207.8,566.6 208.3,566.4 208.8,566.2 209.3,566.2 209.8,566.3 210.3,566.4 210.8,566.7 211.3,567.0 211.8,567.4 212.3,567.8 212.8,568.3 213.3,568.7 213.8,569.1 214.3,569.5 214.8,569.8 215.3,570.1 215.8,570.4 216.3,570.6 216.8,570.7 217.3,570.9 217.8,571.0 218.3,571.0 218.8,571.1 219.3,571.1 219.8,571.2 220.3,571.2 220.8,571.2 221.3,571.2 221.8,571.2 222.3,571.2 222.8,571.2 223.3,571.2 223.8,571.2 224.3,571.2 224.8,571.2 225.3,571.2 225.8,571.1 226.3,571.0 226.8,570.9 227.3,570.7 227.8,570.5 228.3,570.2 228.8,569.8 229.3,569.4 229.8,569.1 230.3,568.8 230.8,568.7 231.3,568.7 231.8,568.9 232.3,569.2 232.8,569.6 233.3,569.9 233.8,570.3 234.3,570.6 234.8,570.8 235.3,571.0 235.8,571.1 236.3,571.1 236.8,571.2 237.3,571.2 237.8,571.2 238.4,571.2 238.9,571.2 239.4,571.1 239.9,571.1 240.4,571.1 240.9,571.0 241.4,570.9 241.9,570.8 242.4,570.6 242.9,570.4 243.4,570.1 243.9,569.8 244.4,569.4 244.9,569.0 245.4,568.5 245.9,568.0 246.4,567.4 246.9,566.9 247.4,566.3 247.9,565.8 248.4,565.4 248.9,565.0 249.4,564.8 249.9,564.7 250.4,564.7 250.9,564.9 251.4,565.2 251.9,565.6 252.4,566.0 252.9,566.6 253.4,567.1 253.9,567.7 254.4,568.2 254.9,568.7 255.4,569.2 255.9,569.6 256.4,570.0 256.9,570.3 257.4,570.5 257.9,570.7 258.4,570.8 258.9,570.9 259.4,571.0 259.9,571.1 260.4,571.1 260.9,571.1 261.4,571.2 261.9,571.2 262.4,571.2 262.9,571.2 263.4,571.2 263.9,571.1 264.4,571.1 264.9,571.0 265.4,571.0 265.9,570.8 266.4,570.7 266.9,570.5 267.4,570.2 267.9,569.9 268.4,569.6 268.9,569.3 269.4,569.1 269.9,568.9 270.4,568.7 270.9,568.7 271.4,568.8 271.9,568.9 272.4,569.2 272.9,569.4 273.4,569.7 273.9,570.0 274.4,570.3 274.9,570.5 275.4,570.7 275.9,570.9 276.4,571.0 276.9,571.1 277.4,571.1 277.9,571.2 278.4,571.2" fill="none" stroke="#767676" stroke-width="0.75"/>
<rect x="235.6" y="574.4" width="33.6" height="15.0" fill="none" stroke="#4a4a4a" stroke-width="1.3"/>
<line x1="236.6" y1="587.8" x2="268.2" y2="587.8" stroke="#cfcfcf" stroke-width="0.8"/>
<polyline points="236.6,588.1 237.1,588.1 237.6,588.1 238.1,588.1 238.6,588.1 239.1,588.1 239.6,588.1 240.1,588.1 240.6,588.1 241.1,588.1 241.6,588.1 242.1,588.1 242.6,588.1 243.1,588.1 243.6,588.1 244.1,588.1 244.6,588.1 245.1,588.1 245.6,588.1 246.1,588.1 246.6,588.1 247.1,588.1 247.6,588.1 248.1,588.1 248.6,588.0 249.1,586.8 249.6,581.4 250.1,575.7 250.6,579.7 251.1,586.0 251.6,587.9 252.1,588.1 252.7,588.1 253.2,588.1 253.7,588.1 254.2,588.1 254.7,588.1 255.2,588.1 255.7,588.1 256.2,588.1 256.7,588.1 257.2,588.1 257.7,588.1 258.2,588.1 258.7,588.1 259.2,588.1 259.7,588.1 260.2,588.1 260.7,588.1 261.2,588.1 261.7,588.1 262.2,588.1 262.7,588.1 263.2,588.1 263.7,588.1 264.2,588.1 264.7,588.1 265.2,588.1 265.7,588.1 266.2,588.1 266.7,588.1 267.2,588.1 267.7,588.1 268.2,588.1" fill="none" stroke="#767676" stroke-width="0.75"/>
<rect x="330.0" y="557.0" width="83.0" height="15.5" fill="none" stroke="#4a4a4a" stroke-width="1.3"/>
<line x1="331.0" y1="570.9" x2="412.0" y2="570.9" stroke="#cfcfcf" stroke-width="0.8"/>
<polyline points="331.0,571.2 331.5,571.2 332.0,571.2 332.5,571.2 333.0,571.2 333.5,571.2 334.0,571.2 334.5,571.2 335.0,571.2 335.5,571.2 336.0,571.2 336.5,571.2 337.0,571.2 337.5,571.2 338.0,571.2 338.5,571.2 339.0,571.2 339.5,571.2 340.0,571.2 340.5,571.2 341.0,571.2 341.5,571.2 342.0,571.2 342.5,571.2 343.0,571.2 343.5,571.2 344.0,571.2 344.5,571.2 345.0,571.2 345.5,571.2 346.0,571.2 346.5,571.2 347.0,571.2 347.5,571.2 348.0,571.2 348.5,571.2 349.0,571.2 349.5,571.2 350.0,571.2 350.5,571.2 351.0,571.2 351.5,571.2 352.0,571.2 352.5,571.2 353.0,571.2 353.5,571.2 354.0,571.2 354.5,571.2 355.0,571.2 355.5,571.2 356.0,571.2 356.5,571.2 357.0,571.2 357.5,571.2 358.0,571.2 358.5,571.2 359.0,571.2 359.5,571.2 360.0,571.2 360.5,571.2 361.0,571.2 361.5,571.2 362.0,571.2 362.5,571.2 363.0,571.2 363.5,571.2 364.0,571.2 364.5,571.2 365.0,571.2 365.5,571.2 366.0,571.2 366.5,571.2 367.0,571.2 367.5,571.2 368.0,571.2 368.5,571.2 369.0,571.2 369.5,571.2 370.0,571.2 370.5,571.2 371.0,571.2 371.5,571.2 372.0,571.2 372.5,571.2 373.0,571.1 373.5,571.1 374.0,571.1 374.5,571.0 375.0,571.0 375.5,570.9 376.0,570.9 376.5,570.8 377.0,570.7 377.5,570.5 378.0,570.4 378.5,570.2 379.0,570.0 379.5,569.8 380.0,569.5 380.5,569.3 381.0,568.9 381.5,568.6 382.0,568.3 382.5,567.9 383.0,567.6 383.5,567.2 384.0,566.8 384.5,566.5 385.0,566.2 385.5,565.9 386.0,565.7 386.5,565.5 387.0,565.3 387.5,565.2 388.0,565.2 388.5,565.2 389.0,565.3 389.5,565.5 390.0,565.7 390.5,565.9 391.0,566.2 391.5,566.5 392.0,566.8 392.5,567.2 393.0,567.6 393.5,567.9 394.0,568.3 394.5,568.6 395.0,568.9 395.5,569.3 396.0,569.5 396.5,569.8 397.0,570.0 397.5,570.2 398.0,570.4 398.5,570.5 399.0,570.7 399.5,570.8 400.0,570.9 400.5,570.9 401.0,571.0 401.5,571.0 402.0,571.1 402.5,571.1 403.0,571.1 403.5,571.2 404.0,571.2 404.5,571.2 405.0,571.2 405.5,571.2 406.0,571.2 406.5,571.2 407.0,571.2 407.5,571.2 408.0,571.2 408.5,571.2 409.0,571.2 409.5,571.2 410.0,571.2 410.5,571.2 411.0,571.2 411.5,571.2 412.0,571.2" fill="none" stroke="#767676" stroke-width="0.75"/>
<rect x="330.0" y="575.0" width="33.3" height="14.6" fill="none" stroke="#4a4a4a" stroke-width="1.3"/>
<line x1="331.0" y1="588.0" x2="362.3" y2="588.0" stroke="#cfcfcf" stroke-width="0.8"/>
<polyline points="331.0,588.3 331.5,588.3 332.0,588.3 332.5,588.3 333.0,588.3 333.5,588.3 334.0,588.3 334.5,588.3 335.0,588.3 335.5,588.3 336.0,588.3 336.6,588.3 337.1,588.3 337.6,588.3 338.1,588.3 338.6,588.3 339.1,588.3 339.6,588.3 340.1,588.3 340.6,588.3 341.1,588.3 341.6,588.3 342.1,588.3 342.6,588.3 343.1,588.3 343.6,588.3 344.1,588.3 344.6,587.9 345.1,585.9 345.6,580.9 346.1,576.8 346.7,579.6 347.2,585.1 347.7,587.7 348.2,588.2 348.7,588.3 349.2,588.3 349.7,588.3 350.2,588.3 350.7,588.3 351.2,588.3 351.7,588.3 352.2,588.3 352.7,588.3 353.2,588.3 353.7,588.3 354.2,588.3 354.7,588.3 355.2,588.3 355.7,588.3 356.2,588.3 356.7,588.3 357.3,588.3 357.8,588.3 358.3,588.3 358.8,588.3 359.3,588.3 359.8,588.3 360.3,588.3 360.8,588.3 361.3,588.3 361.8,588.3 362.3,588.3" fill="none" stroke="#767676" stroke-width="0.75"/>
</svg></body></html>
